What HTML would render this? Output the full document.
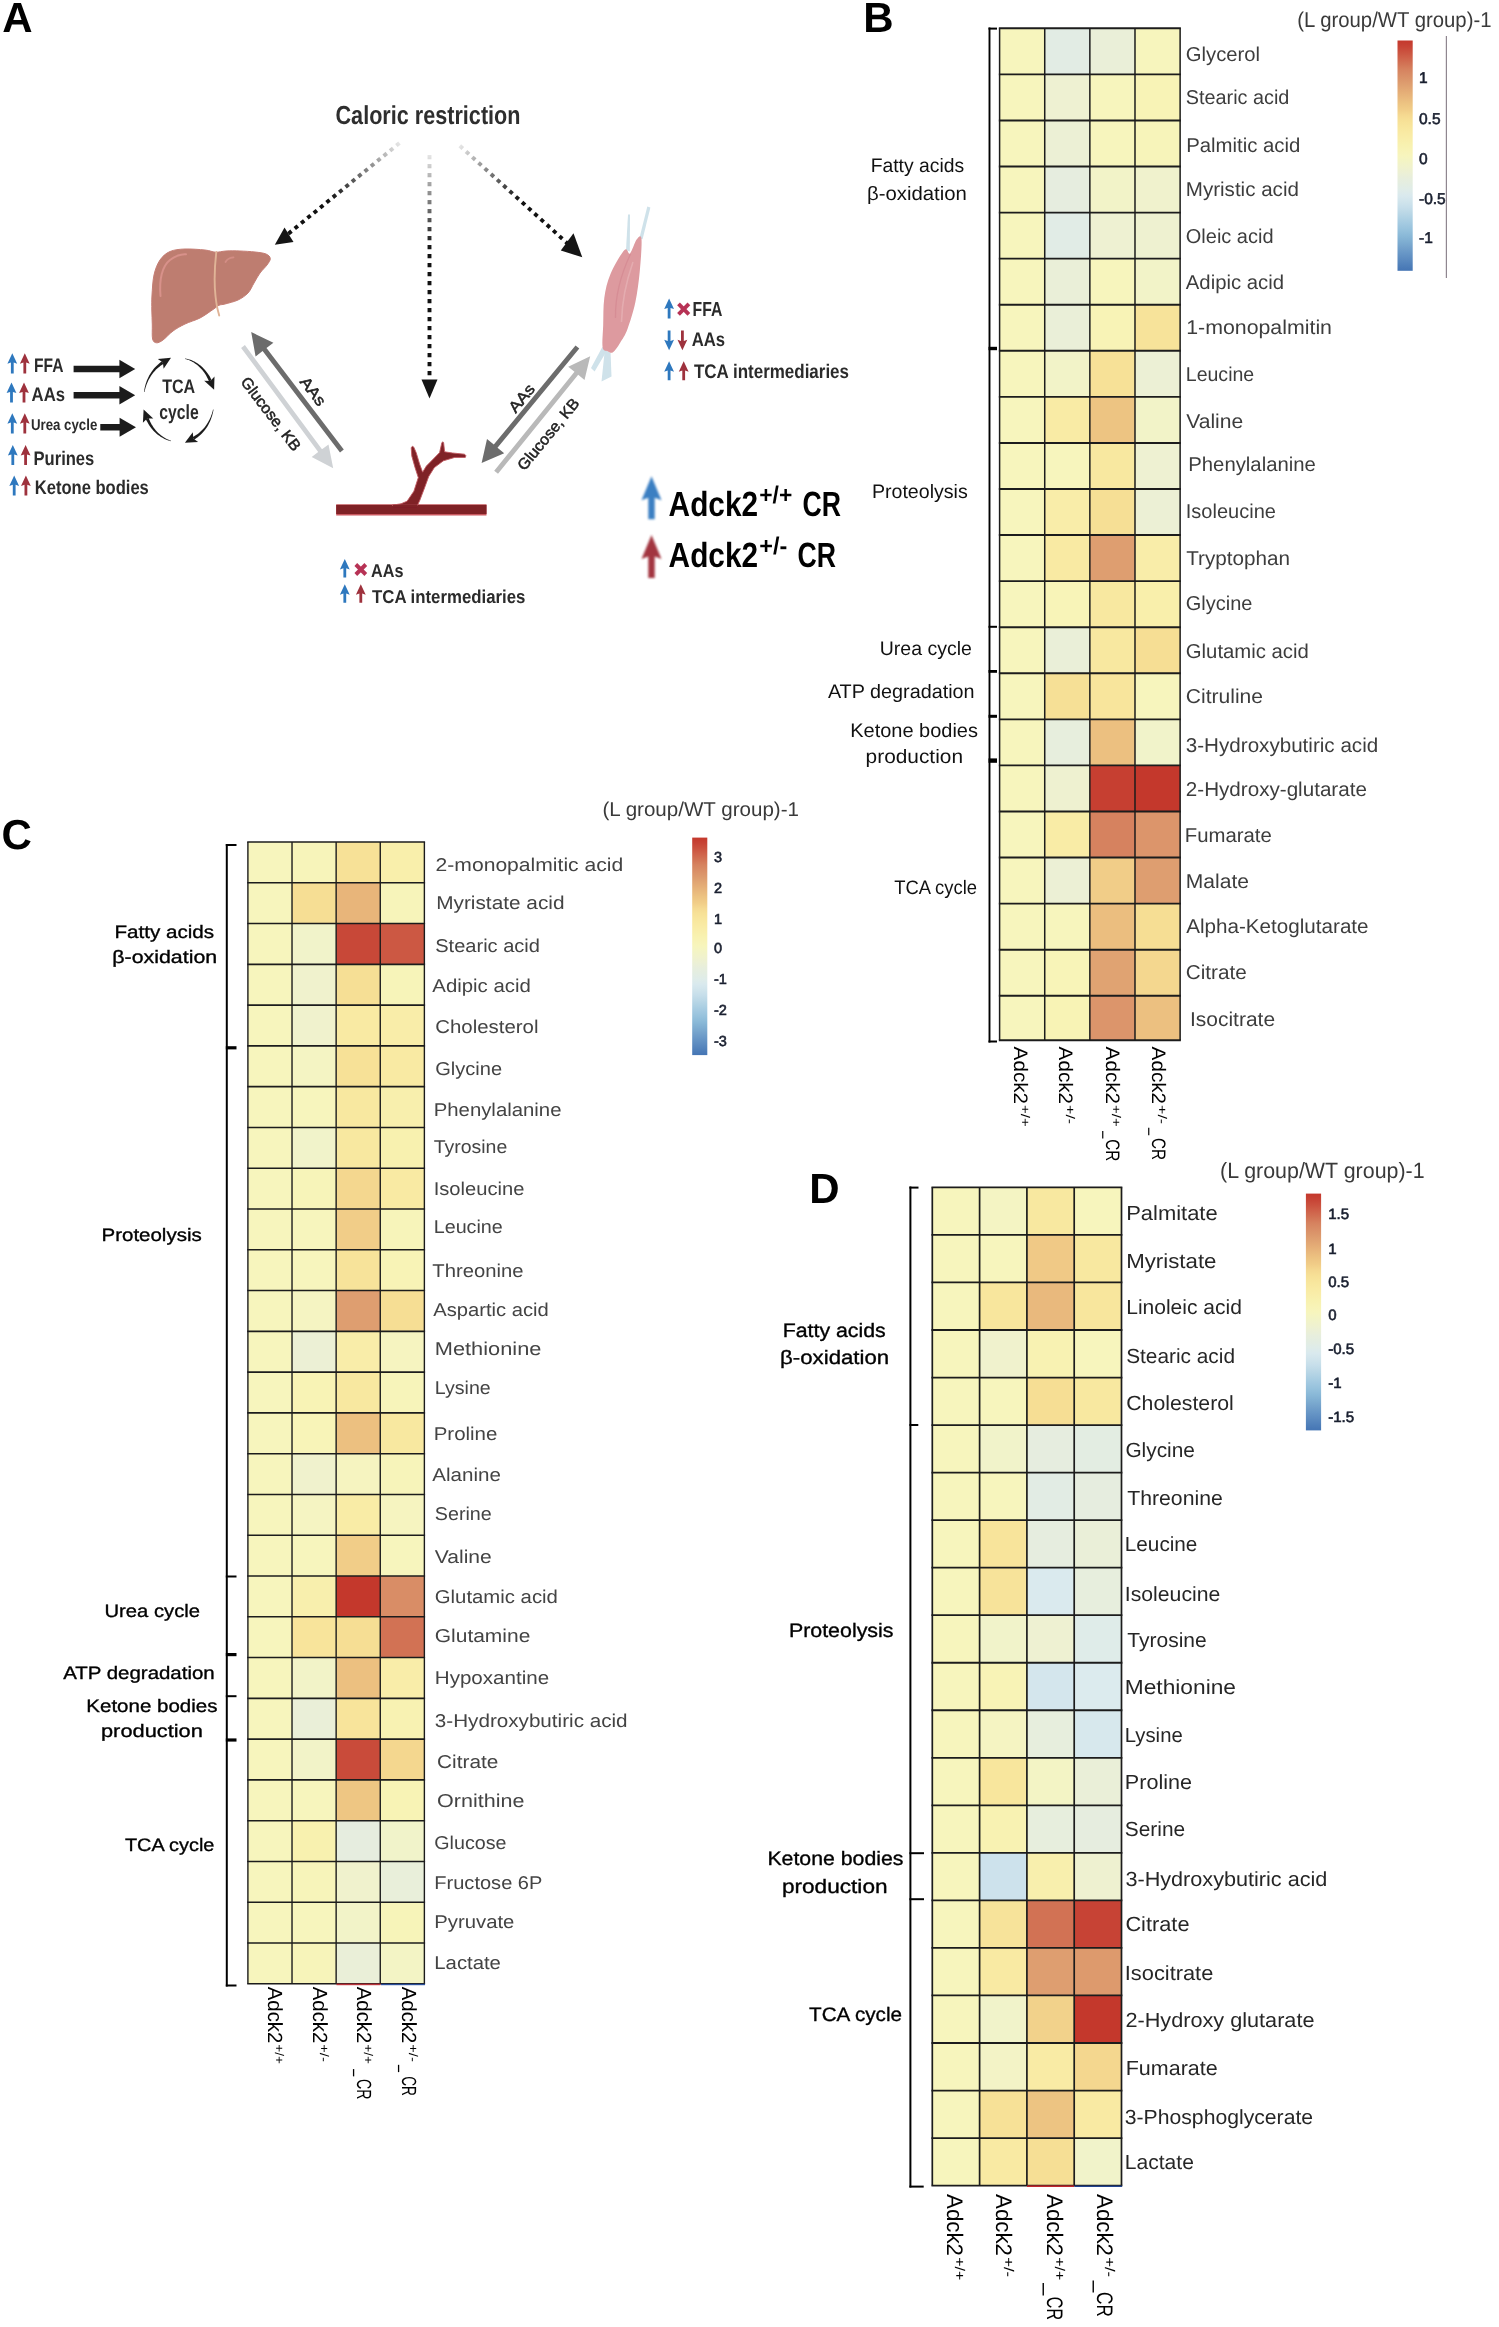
<!DOCTYPE html>
<html><head><meta charset="utf-8"><title>Figure</title>
<style>html,body{margin:0;padding:0;background:#fff}svg{display:block}text{text-rendering:geometricPrecision}</style>
</head><body>
<svg width="1499" height="2327" viewBox="0 0 1499 2327" font-family="'Liberation Sans', sans-serif">
<rect width="1499" height="2327" fill="#fff"/>
<g opacity="0.999">
<text x="2.2" y="32.4" font-size="42" text-anchor="start" fill="#000" font-weight="bold">A</text>
<text x="863.2" y="32.4" font-size="42" text-anchor="start" fill="#000" font-weight="bold">B</text>
<text x="1.5" y="848.6" font-size="42" text-anchor="start" fill="#000" font-weight="bold">C</text>
<text x="809.3" y="1203.0" font-size="42" text-anchor="start" fill="#000" font-weight="bold">D</text>
<g id="panelA">
<defs>
<filter id="soft" x="-20%" y="-20%" width="140%" height="140%"><feGaussianBlur stdDeviation="0.45"/></filter>
<filter id="soft2" x="-30%" y="-30%" width="160%" height="160%"><feGaussianBlur stdDeviation="0.9"/></filter>
<linearGradient id="fadeL" gradientUnits="userSpaceOnUse" x1="399.5" y1="143" x2="330" y2="200"><stop offset="0" stop-color="#e6e6e6"/><stop offset="1" stop-color="#111"/></linearGradient>
<linearGradient id="fadeC" gradientUnits="userSpaceOnUse" x1="429.5" y1="152" x2="429.5" y2="250"><stop offset="0" stop-color="#ececec"/><stop offset="1" stop-color="#111"/></linearGradient>
<linearGradient id="fadeR" gradientUnits="userSpaceOnUse" x1="459.8" y1="145.8" x2="520" y2="200"><stop offset="0" stop-color="#e6e6e6"/><stop offset="1" stop-color="#111"/></linearGradient>
</defs>
<text x="335.5" y="124.3" font-size="26" text-anchor="start" fill="#2e2e2e" font-weight="bold" textLength="185.0" lengthAdjust="spacingAndGlyphs">Caloric restriction</text>
<line x1="399.5" y1="143" x2="287" y2="234.8" stroke="url(#fadeL)" stroke-width="3.9" stroke-dasharray="4 4.2"/>
<polygon points="274.8,244.8 284.5,227.5 293.5,242" fill="#151515"/>
<line x1="429.5" y1="155" x2="429.5" y2="380" stroke="url(#fadeC)" stroke-width="3.9" stroke-dasharray="4.2 4.8"/>
<polygon points="429.5,398.5 421.5,379.5 437.5,379.5" fill="#151515"/>
<line x1="459.8" y1="145.8" x2="569" y2="244.8" stroke="url(#fadeR)" stroke-width="3.9" stroke-dasharray="4 4.4"/>
<polygon points="582.3,257.3 573.5,233.3 560.8,250.5" fill="#151515"/>
<path d="M152.0,295.0 C152.4,289.2 152.7,280.8 154.0,275.0 C155.3,269.2 157.3,263.9 160.0,260.0 C162.7,256.1 165.8,253.3 170.0,251.5 C174.2,249.7 179.2,249.2 185.0,249.0 C190.8,248.8 199.9,249.5 205.0,250.0 C210.1,250.5 212.0,252.0 215.5,252.2 C219.0,252.4 221.9,251.2 226.0,251.0 C230.1,250.8 235.2,250.8 240.0,251.0 C244.8,251.2 250.7,251.5 255.0,252.0 C259.3,252.5 263.4,252.9 266.0,254.0 C268.6,255.1 270.1,256.7 270.3,258.5 C270.5,260.3 268.7,262.6 267.0,265.0 C265.3,267.4 262.2,270.0 260.0,273.0 C257.8,276.0 256.0,279.7 254.0,283.0 C252.0,286.3 250.7,290.2 248.0,293.0 C245.3,295.8 241.8,298.2 238.0,300.0 C234.2,301.8 228.2,303.1 225.0,304.0 C221.8,304.9 221.0,304.4 219.0,305.3 C217.0,306.2 216.2,307.4 213.0,309.5 C209.8,311.6 204.7,315.6 200.0,318.0 C195.3,320.4 189.5,321.8 185.0,324.0 C180.5,326.2 176.7,328.3 173.0,331.0 C169.3,333.7 165.8,338.0 163.0,340.0 C160.2,342.0 158.2,343.0 156.5,342.8 C154.8,342.6 153.3,342.0 152.6,339.0 C151.9,336.0 152.4,329.8 152.3,325.0 C152.2,320.2 151.9,315.0 151.8,310.0 C151.8,305.0 151.6,300.8 152.0,295.0Z" fill="#be7d70" stroke="#c47d74" stroke-width="1" filter="url(#soft)"/>
<path d="M160.5,296 C159,280 162,266 170,260 S182,254.5 186,254.2" fill="none" stroke="#d8918a" stroke-width="2" stroke-linecap="round" filter="url(#soft)"/>
<path d="M225.5,262 C227,259 230,257.8 233.5,257.4" fill="none" stroke="#d38d85" stroke-width="1.8" stroke-linecap="round" filter="url(#soft)"/>
<path d="M216.3,252 C214.8,265 214,282 215.5,296 S218,310 219.2,315.5" fill="none" stroke="#e0b497" stroke-width="1.9" stroke-linecap="round" filter="url(#soft)"/>
<g filter="url(#soft)">
<path d="M639.3,238.5 L647.3,206.5 L650.4,207.6 L642.6,239.3Z" fill="#cfe2ea"/>
<path d="M626,250 L628,214.5 L630,214.5 L629.8,251.5Z" fill="#cfe2ea"/>
<path d="M602.3,347 L591,368 L594.6,371.5 L607,350.5Z" fill="#cfe2ea"/>
<path d="M604.8,350 L601.5,381.5 L611.5,376.5 L610.6,353Z" fill="#cfe2ea"/>
<path d="M641.5,239.0 C642.0,244.2 640.8,260.4 639.8,271.0 C638.8,281.6 637.3,292.8 635.3,302.5 C633.2,312.2 630.0,322.2 627.5,329.0 C625.0,335.8 622.4,339.1 620.0,343.0 C617.6,346.9 615.1,350.9 613.0,352.3 C610.9,353.7 609.2,352.1 607.5,351.3 C605.8,350.5 603.3,351.7 602.6,347.3 C601.9,342.9 602.9,333.2 603.2,325.0 C603.5,316.8 603.1,306.5 604.3,298.0 C605.5,289.5 607.1,282.0 610.5,274.0 C613.9,266.0 621.2,253.4 624.5,250.0 C627.8,246.6 628.0,255.1 630.0,253.4 C632.0,251.7 634.7,242.0 636.6,239.6 C638.5,237.2 641.0,233.8 641.5,239.0Z" fill="#dd9a9f"/>
<path d="M630.5,254 C622,272 615,292 615.5,318" fill="none" stroke="#d58a92" stroke-width="1.3" opacity="0.8"/>
<path d="M633,262 C626,282 622,300 621.5,322" fill="none" stroke="#e7b3b6" stroke-width="1.6" opacity="0.7"/>
</g>
<g filter="url(#soft)">
<rect x="336.2" y="504.3" width="150.3" height="11.2" fill="#c9595f"/>
<rect x="336.2" y="504.9" width="150.3" height="9.1" fill="#7f2028"/>
<path d="M392,505.2 L401,503.8 L407.1,501.2 L413.9,491.2 L418.3,477.6 L415,467.4 L411.8,456 L411.2,447.8 L412.4,446.2 L413.7,447 L416.2,452.7 L419.6,464 L422.6,472.2 L426.4,466 L434.3,458 L439.6,452.6 L441.8,442.9 L442.7,441.8 L443.6,442.6 L444.6,451.8 L452.5,453 L464.6,454.2 L465.9,455.7 L465.3,457.4 L454.7,457.4 L443.4,460.8 L434.3,467.6 L428.7,476.5 L424.1,489 L419.8,500.3 L417.5,505.2Z" fill="#7f2028" stroke="#c05a60" stroke-width="0.9" stroke-linejoin="round"/>
<rect x="393" y="504.9" width="24" height="3" fill="#7f2028"/>
</g>
<g filter="url(#soft)">
<polygon points="241.1,347.9 318.2,452.0 311.7,456.9 333.2,468.3 328.5,444.4 322.0,449.2 244.9,345.1" fill="#cfd2d5"/>
<polygon points="343.8,449.5 266.5,348.1 273.4,342.8 251.2,332.1 255.6,356.4 262.6,351.0 340.0,452.5" fill="#6c6c6c"/>
<polygon points="498.0,473.8 578.2,374.8 584.5,379.9 590.2,356.2 568.2,366.7 574.5,371.8 494.2,470.8" fill="#b9b9b9"/>
<polygon points="575.5,345.6 493.8,444.6 487.0,439.0 481.6,463.1 504.2,453.3 497.5,447.7 579.3,348.6" fill="#6c6c6c"/>
</g>
<text transform="translate(313.3,391.1) rotate(52.7)" x="0" y="5.6" font-size="15.5" text-anchor="middle" fill="#222" stroke="#222" stroke-width="0.5" textLength="31.5" lengthAdjust="spacingAndGlyphs">AAs</text>
<text transform="translate(271.2,413.7) rotate(52.7)" x="0" y="5.6" font-size="15.5" text-anchor="middle" fill="#222" stroke="#222" stroke-width="0.5" textLength="88" lengthAdjust="spacingAndGlyphs">Glucose, KB</text>
<text transform="translate(521.3,398.0) rotate(-50.6)" x="0" y="5.6" font-size="15.5" text-anchor="middle" fill="#222" stroke="#222" stroke-width="0.5" textLength="31.5" lengthAdjust="spacingAndGlyphs">AAs</text>
<text transform="translate(548.0,434.0) rotate(-50.6)" x="0" y="5.6" font-size="15.5" text-anchor="middle" fill="#222" stroke="#222" stroke-width="0.5" textLength="88" lengthAdjust="spacingAndGlyphs">Glucose, KB</text>
<polygon points="12.3,353.3 17.2,363.8 13.7,362.6 13.7,373.6 10.9,373.6 10.9,362.6 7.4,363.8" fill="#2f78be" filter="url(#soft)"/>
<polygon points="24.8,353.3 29.7,363.8 26.2,362.6 26.2,373.6 23.4,373.6 23.4,362.6 19.9,363.8" fill="#9e303c" filter="url(#soft)"/>
<polygon points="11.5,382.6 16.4,393.1 12.9,391.9 12.9,402.6 10.1,402.6 10.1,391.9 6.6,393.1" fill="#2f78be" filter="url(#soft)"/>
<polygon points="24.0,382.6 28.9,393.1 25.4,391.9 25.4,402.6 22.6,402.6 22.6,391.9 19.1,393.1" fill="#9e303c" filter="url(#soft)"/>
<polygon points="12.3,413.3 17.2,423.8 13.7,422.6 13.7,433.4 10.9,433.4 10.9,422.6 7.4,423.8" fill="#2f78be" filter="url(#soft)"/>
<polygon points="24.8,413.3 29.7,423.8 26.2,422.6 26.2,433.4 23.4,433.4 23.4,422.6 19.9,423.8" fill="#9e303c" filter="url(#soft)"/>
<polygon points="12.8,445.1 17.7,455.6 14.2,454.4 14.2,465.1 11.4,465.1 11.4,454.4 7.9,455.6" fill="#2f78be" filter="url(#soft)"/>
<polygon points="25.6,445.1 30.5,455.6 27.0,454.4 27.0,465.1 24.2,465.1 24.2,454.4 20.7,455.6" fill="#9e303c" filter="url(#soft)"/>
<polygon points="14.2,475.4 19.1,485.9 15.6,484.7 15.6,495.5 12.8,495.5 12.8,484.7 9.3,485.9" fill="#2f78be" filter="url(#soft)"/>
<polygon points="25.9,475.4 30.8,485.9 27.3,484.7 27.3,495.5 24.5,495.5 24.5,484.7 21.0,485.9" fill="#9e303c" filter="url(#soft)"/>
<text x="34.0" y="371.7" font-size="19.7" text-anchor="start" fill="#2b2b2b" font-weight="bold" textLength="29.4" lengthAdjust="spacingAndGlyphs">FFA</text>
<text x="31.6" y="401.4" font-size="19.7" text-anchor="start" fill="#2b2b2b" font-weight="bold" textLength="33.4" lengthAdjust="spacingAndGlyphs">AAs</text>
<text x="30.9" y="430.4" font-size="15.8" text-anchor="start" fill="#2b2b2b" font-weight="bold" textLength="66.4" lengthAdjust="spacingAndGlyphs">Urea cycle</text>
<text x="33.5" y="464.8" font-size="19.7" text-anchor="start" fill="#2b2b2b" font-weight="bold" textLength="60.8" lengthAdjust="spacingAndGlyphs">Purines</text>
<text x="34.8" y="493.9" font-size="19.7" text-anchor="start" fill="#2b2b2b" font-weight="bold" textLength="114.0" lengthAdjust="spacingAndGlyphs">Ketone bodies</text>
<g filter="url(#soft)">
<polygon points="73.6,372.2 119.4,372.2 119.4,378.2 135.2,369.0 119.4,359.8 119.4,365.8 73.6,365.8" fill="#1e1e1e"/>
<polygon points="73.6,398.4 119.4,398.4 119.4,404.4 135.2,395.2 119.4,386.0 119.4,392.0 73.6,392.0" fill="#1e1e1e"/>
<polygon points="100.3,430.4 119.6,430.4 119.6,436.7 136.0,427.2 119.6,417.7 119.6,424.0 100.3,424.0" fill="#1e1e1e"/>
</g>
<g filter="url(#soft)">
<polygon points="144.0,391.9 144.2,390.4 144.5,388.8 144.8,387.3 145.2,385.7 145.6,384.2 146.1,382.7 146.6,381.2 147.2,379.8 147.8,378.4 148.5,377.0 149.2,375.6 150.0,374.3 150.8,372.9 151.6,371.7 152.5,370.4 153.4,369.3 154.4,368.1 155.4,367.0 156.4,365.9 157.5,364.9 158.6,363.9 159.7,363.0 160.9,362.1 162.1,361.3 163.7,363.9 162.5,364.5 161.4,365.3 160.2,366.0 159.2,366.9 158.1,367.7 157.0,368.7 156.0,369.6 155.1,370.7 154.1,371.7 153.2,372.8 152.3,374.0 151.4,375.2 150.6,376.4 149.9,377.7 149.1,379.0 148.4,380.3 147.8,381.7 147.2,383.1 146.6,384.5 146.1,386.0 145.6,387.5 145.2,389.0 144.8,390.5 144.5,392.0" fill="#1e1e1e"/>
<polygon points="171.0,357.7 163.6,368.7 162.9,362.6 157.8,359.1" fill="#1e1e1e"/>
<polygon points="185.1,358.4 186.4,358.7 187.8,359.0 189.1,359.4 190.5,359.8 191.8,360.3 193.1,360.9 194.4,361.5 195.6,362.2 196.9,363.0 198.1,363.8 199.3,364.7 200.5,365.6 201.6,366.6 202.7,367.6 203.8,368.7 204.8,369.8 205.8,371.0 206.8,372.2 207.7,373.4 208.6,374.7 209.5,376.1 210.3,377.5 211.0,378.9 211.7,380.3 209.0,381.5 208.4,380.1 207.8,378.7 207.1,377.4 206.4,376.1 205.7,374.8 204.9,373.6 204.0,372.3 203.2,371.2 202.3,370.0 201.3,368.9 200.3,367.9 199.3,366.9 198.3,365.9 197.2,365.0 196.1,364.2 194.9,363.4 193.8,362.6 192.6,361.9 191.4,361.3 190.1,360.7 188.9,360.1 187.6,359.7 186.3,359.2 185.0,358.9" fill="#1e1e1e"/>
<polygon points="214.1,389.7 204.2,380.8 210.4,380.9 214.5,376.4" fill="#1e1e1e"/>
<polygon points="213.5,409.5 213.3,411.1 212.9,412.7 212.5,414.2 212.1,415.8 211.6,417.3 211.1,418.8 210.5,420.3 209.9,421.7 209.2,423.1 208.5,424.5 207.7,425.9 206.9,427.2 206.0,428.5 205.1,429.7 204.1,431.0 203.2,432.1 202.1,433.2 201.1,434.3 200.0,435.3 198.8,436.3 197.7,437.2 196.5,438.1 195.2,438.9 194.0,439.7 192.6,437.0 193.8,436.4 194.9,435.8 196.1,435.0 197.3,434.3 198.4,433.4 199.5,432.6 200.5,431.6 201.6,430.6 202.6,429.6 203.6,428.5 204.5,427.4 205.4,426.2 206.3,425.0 207.1,423.7 207.9,422.5 208.7,421.1 209.4,419.8 210.0,418.4 210.7,416.9 211.2,415.5 211.8,414.0 212.2,412.5 212.7,411.0 213.0,409.4" fill="#1e1e1e"/>
<polygon points="184.9,442.8 192.8,432.3 193.3,438.4 198.1,442.1" fill="#1e1e1e"/>
<polygon points="170.9,441.2 169.6,440.8 168.3,440.4 167.0,440.0 165.8,439.5 164.5,438.9 163.3,438.3 162.1,437.6 160.9,436.9 159.7,436.1 158.5,435.3 157.4,434.4 156.3,433.5 155.3,432.5 154.2,431.5 153.2,430.4 152.2,429.3 151.3,428.2 150.4,427.0 149.5,425.7 148.7,424.4 147.9,423.1 147.2,421.8 146.4,420.4 145.8,419.0 148.6,417.8 149.1,419.2 149.7,420.5 150.3,421.9 150.9,423.1 151.6,424.4 152.4,425.6 153.1,426.8 153.9,428.0 154.8,429.1 155.7,430.2 156.6,431.2 157.5,432.2 158.5,433.2 159.5,434.1 160.6,435.0 161.6,435.8 162.7,436.6 163.8,437.3 165.0,438.0 166.2,438.7 167.3,439.2 168.6,439.8 169.8,440.3 171.0,440.7" fill="#1e1e1e"/>
<polygon points="143.6,409.6 153.3,418.6 147.2,418.4 142.9,422.8" fill="#1e1e1e"/>
</g>
<text x="162.2" y="392.7" font-size="19.5" text-anchor="start" fill="#2b2b2b" font-weight="bold" textLength="33.0" lengthAdjust="spacingAndGlyphs">TCA</text>
<text x="159.3" y="418.7" font-size="20.5" text-anchor="start" fill="#2b2b2b" font-weight="bold" textLength="39.4" lengthAdjust="spacingAndGlyphs">cycle</text>
<polygon points="669.1,298.6 674.0,309.1 670.5,307.9 670.5,318.4 667.7,318.4 667.7,307.9 664.2,309.1" fill="#2f78be" filter="url(#soft)"/>
<g stroke="#b73355" stroke-width="3.9" filter="url(#soft)"><line x1="678.5" y1="303.90000000000003" x2="688.9000000000001" y2="314.3"/><line x1="678.5" y1="314.3" x2="688.9000000000001" y2="303.90000000000003"/></g>
<text x="692.6" y="316.2" font-size="20.2" text-anchor="start" fill="#2b2b2b" font-weight="bold" textLength="29.8" lengthAdjust="spacingAndGlyphs">FFA</text>
<polygon points="669.1,350.2 674.0,339.7 670.5,340.9 670.5,330.6 667.7,330.6 667.7,340.9 664.2,339.7" fill="#2f78be" filter="url(#soft)"/>
<polygon points="682.4,350.2 687.3,339.7 683.8,340.9 683.8,330.6 681.0,330.6 681.0,340.9 677.5,339.7" fill="#9e303c" filter="url(#soft)"/>
<text x="691.7" y="345.9" font-size="19.7" text-anchor="start" fill="#2b2b2b" font-weight="bold" textLength="33.4" lengthAdjust="spacingAndGlyphs">AAs</text>
<polygon points="669.1,361.2 674.0,371.7 670.5,370.5 670.5,380.2 667.7,380.2 667.7,370.5 664.2,371.7" fill="#2f78be" filter="url(#soft)"/>
<polygon points="683.7,361.2 688.6,371.7 685.1,370.5 685.1,380.2 682.3,380.2 682.3,370.5 678.8,371.7" fill="#9e303c" filter="url(#soft)"/>
<text x="694.0" y="378.2" font-size="19.7" text-anchor="start" fill="#2b2b2b" font-weight="bold" textLength="155.0" lengthAdjust="spacingAndGlyphs">TCA intermediaries</text>
<polygon points="344.8,559.0 349.7,569.5 346.2,568.3 346.2,577.6 343.4,577.6 343.4,568.3 339.9,569.5" fill="#2f78be" filter="url(#soft)"/>
<g stroke="#b73355" stroke-width="3.9" filter="url(#soft)"><line x1="355.8" y1="564.5" x2="365.8" y2="574.5"/><line x1="355.8" y1="574.5" x2="365.8" y2="564.5"/></g>
<text x="371.0" y="577.4" font-size="18.6" text-anchor="start" fill="#2b2b2b" font-weight="bold" textLength="32.4" lengthAdjust="spacingAndGlyphs">AAs</text>
<polygon points="344.8,584.2 349.7,594.7 346.2,593.5 346.2,602.8 343.4,602.8 343.4,593.5 339.9,594.7" fill="#2f78be" filter="url(#soft)"/>
<polygon points="360.8,584.2 365.7,594.7 362.2,593.5 362.2,602.8 359.4,602.8 359.4,593.5 355.9,594.7" fill="#9e303c" filter="url(#soft)"/>
<text x="372.0" y="603.2" font-size="18.6" text-anchor="start" fill="#2b2b2b" font-weight="bold" textLength="153.4" lengthAdjust="spacingAndGlyphs">TCA intermediaries</text>
<polygon points="651.5,476.3 661.5,500.3 654.7,497.8 654.7,519.2 648.3,519.2 648.3,497.8 641.5,500.3" fill="#3a7fc2" filter="url(#soft2)"/>
<polygon points="651.5,535.1 661.5,559.1 654.7,556.6 654.7,578.0 648.3,578.0 648.3,556.6 641.5,559.1" fill="#a2353f" filter="url(#soft2)"/>
<text x="668.6" y="515.5" font-size="35" font-weight="bold" fill="#000" textLength="89.5" lengthAdjust="spacingAndGlyphs">Adck2</text>
<text x="759.3" y="503.0" font-size="24" font-weight="bold" fill="#000" textLength="33" lengthAdjust="spacingAndGlyphs">+/+</text>
<text x="802.5" y="515.5" font-size="35" font-weight="bold" fill="#000" textLength="38.5" lengthAdjust="spacingAndGlyphs">CR</text>
<text x="668.6" y="566.9" font-size="35" font-weight="bold" fill="#000" textLength="89.5" lengthAdjust="spacingAndGlyphs">Adck2</text>
<text x="759.3" y="554.4" font-size="24" font-weight="bold" fill="#000" textLength="28" lengthAdjust="spacingAndGlyphs">+/-</text>
<text x="797.5" y="566.9" font-size="35" font-weight="bold" fill="#000" textLength="38.5" lengthAdjust="spacingAndGlyphs">CR</text>
</g>
<g id="panelB">
<rect x="999.60" y="28.30" width="45.43" height="46.37" fill="#f7f5bd"/>
<rect x="1044.73" y="28.30" width="45.43" height="46.37" fill="#e2ece4"/>
<rect x="1089.86" y="28.30" width="45.43" height="46.37" fill="#eaefd8"/>
<rect x="1134.99" y="28.30" width="45.43" height="46.37" fill="#f7f5bd"/>
<rect x="999.60" y="74.37" width="45.43" height="46.37" fill="#f7f5bd"/>
<rect x="1044.73" y="74.37" width="45.43" height="46.37" fill="#eef1d2"/>
<rect x="1089.86" y="74.37" width="45.43" height="46.37" fill="#f7f5bd"/>
<rect x="1134.99" y="74.37" width="45.43" height="46.37" fill="#f8f3b6"/>
<rect x="999.60" y="120.44" width="45.43" height="46.37" fill="#f7f5bd"/>
<rect x="1044.73" y="120.44" width="45.43" height="46.37" fill="#ecf0d5"/>
<rect x="1089.86" y="120.44" width="45.43" height="46.37" fill="#f7f5bd"/>
<rect x="1134.99" y="120.44" width="45.43" height="46.37" fill="#f7f4ba"/>
<rect x="999.60" y="166.51" width="45.43" height="46.37" fill="#f7f5bd"/>
<rect x="1044.73" y="166.51" width="45.43" height="46.37" fill="#e6eddf"/>
<rect x="1089.86" y="166.51" width="45.43" height="46.37" fill="#f2f3c8"/>
<rect x="1134.99" y="166.51" width="45.43" height="46.37" fill="#f0f2cd"/>
<rect x="999.60" y="212.58" width="45.43" height="46.37" fill="#f7f5bd"/>
<rect x="1044.73" y="212.58" width="45.43" height="46.37" fill="#e1ece6"/>
<rect x="1089.86" y="212.58" width="45.43" height="46.37" fill="#eef1d2"/>
<rect x="1134.99" y="212.58" width="45.43" height="46.37" fill="#eef1d0"/>
<rect x="999.60" y="258.65" width="45.43" height="46.37" fill="#f7f5bd"/>
<rect x="1044.73" y="258.65" width="45.43" height="46.37" fill="#eaefd8"/>
<rect x="1089.86" y="258.65" width="45.43" height="46.37" fill="#f7f5bd"/>
<rect x="1134.99" y="258.65" width="45.43" height="46.37" fill="#f2f3c8"/>
<rect x="999.60" y="304.72" width="45.43" height="46.37" fill="#f7f5bd"/>
<rect x="1044.73" y="304.72" width="45.43" height="46.37" fill="#eaefd8"/>
<rect x="1089.86" y="304.72" width="45.43" height="46.37" fill="#f8f3b6"/>
<rect x="1134.99" y="304.72" width="45.43" height="46.37" fill="#f7e39a"/>
<rect x="999.60" y="350.79" width="45.43" height="46.37" fill="#f7f5bd"/>
<rect x="1044.73" y="350.79" width="45.43" height="46.37" fill="#f2f3c8"/>
<rect x="1089.86" y="350.79" width="45.43" height="46.37" fill="#f7e197"/>
<rect x="1134.99" y="350.79" width="45.43" height="46.37" fill="#ecf0d5"/>
<rect x="999.60" y="396.86" width="45.43" height="46.37" fill="#f7f5bd"/>
<rect x="1044.73" y="396.86" width="45.43" height="46.37" fill="#f9eba5"/>
<rect x="1089.86" y="396.86" width="45.43" height="46.37" fill="#edc482"/>
<rect x="1134.99" y="396.86" width="45.43" height="46.37" fill="#f2f3c8"/>
<rect x="999.60" y="442.93" width="45.43" height="46.37" fill="#f7f5bd"/>
<rect x="1044.73" y="442.93" width="45.43" height="46.37" fill="#f7f5bd"/>
<rect x="1089.86" y="442.93" width="45.43" height="46.37" fill="#f8e8a0"/>
<rect x="1134.99" y="442.93" width="45.43" height="46.37" fill="#eef1d2"/>
<rect x="999.60" y="489.00" width="45.43" height="46.37" fill="#f7f5bd"/>
<rect x="1044.73" y="489.00" width="45.43" height="46.37" fill="#f9eda9"/>
<rect x="1089.86" y="489.00" width="45.43" height="46.37" fill="#f6df95"/>
<rect x="1134.99" y="489.00" width="45.43" height="46.37" fill="#ecf0d5"/>
<rect x="999.60" y="535.07" width="45.43" height="46.37" fill="#f7f5bd"/>
<rect x="1044.73" y="535.07" width="45.43" height="46.37" fill="#f9eaa3"/>
<rect x="1089.86" y="535.07" width="45.43" height="46.37" fill="#de9e70"/>
<rect x="1134.99" y="535.07" width="45.43" height="46.37" fill="#f9eda9"/>
<rect x="999.60" y="581.14" width="45.43" height="46.37" fill="#f7f5bd"/>
<rect x="1044.73" y="581.14" width="45.43" height="46.37" fill="#f8f4b8"/>
<rect x="1089.86" y="581.14" width="45.43" height="46.37" fill="#f8e8a0"/>
<rect x="1134.99" y="581.14" width="45.43" height="46.37" fill="#f9efab"/>
<rect x="999.60" y="627.21" width="45.43" height="46.37" fill="#f7f5bd"/>
<rect x="1044.73" y="627.21" width="45.43" height="46.37" fill="#eaefd8"/>
<rect x="1089.86" y="627.21" width="45.43" height="46.37" fill="#f8e8a0"/>
<rect x="1134.99" y="627.21" width="45.43" height="46.37" fill="#f6de94"/>
<rect x="999.60" y="673.28" width="45.43" height="46.37" fill="#f7f5bd"/>
<rect x="1044.73" y="673.28" width="45.43" height="46.37" fill="#f6e096"/>
<rect x="1089.86" y="673.28" width="45.43" height="46.37" fill="#f8e59c"/>
<rect x="1134.99" y="673.28" width="45.43" height="46.37" fill="#f7f5bd"/>
<rect x="999.60" y="719.35" width="45.43" height="46.37" fill="#f7f5bd"/>
<rect x="1044.73" y="719.35" width="45.43" height="46.37" fill="#e7eedd"/>
<rect x="1089.86" y="719.35" width="45.43" height="46.37" fill="#ecc080"/>
<rect x="1134.99" y="719.35" width="45.43" height="46.37" fill="#f1f3ca"/>
<rect x="999.60" y="765.42" width="45.43" height="46.37" fill="#f7f5bd"/>
<rect x="1044.73" y="765.42" width="45.43" height="46.37" fill="#eef1d0"/>
<rect x="1089.86" y="765.42" width="45.43" height="46.37" fill="#c63f31"/>
<rect x="1134.99" y="765.42" width="45.43" height="46.37" fill="#c4382c"/>
<rect x="999.60" y="811.49" width="45.43" height="46.37" fill="#f7f5bd"/>
<rect x="1044.73" y="811.49" width="45.43" height="46.37" fill="#f9eca6"/>
<rect x="1089.86" y="811.49" width="45.43" height="46.37" fill="#d6825f"/>
<rect x="1134.99" y="811.49" width="45.43" height="46.37" fill="#dc956b"/>
<rect x="999.60" y="857.56" width="45.43" height="46.37" fill="#f7f5bd"/>
<rect x="1044.73" y="857.56" width="45.43" height="46.37" fill="#ecf0d5"/>
<rect x="1089.86" y="857.56" width="45.43" height="46.37" fill="#f1cd88"/>
<rect x="1134.99" y="857.56" width="45.43" height="46.37" fill="#de9e70"/>
<rect x="999.60" y="903.63" width="45.43" height="46.37" fill="#f7f5bd"/>
<rect x="1044.73" y="903.63" width="45.43" height="46.37" fill="#f7f5bd"/>
<rect x="1089.86" y="903.63" width="45.43" height="46.37" fill="#ebbe7f"/>
<rect x="1134.99" y="903.63" width="45.43" height="46.37" fill="#f6de94"/>
<rect x="999.60" y="949.70" width="45.43" height="46.37" fill="#f7f5bd"/>
<rect x="1044.73" y="949.70" width="45.43" height="46.37" fill="#f8f4b8"/>
<rect x="1089.86" y="949.70" width="45.43" height="46.37" fill="#e0a372"/>
<rect x="1134.99" y="949.70" width="45.43" height="46.37" fill="#f4d78f"/>
<rect x="999.60" y="995.77" width="45.43" height="44.83" fill="#f7f5bd"/>
<rect x="1044.73" y="995.77" width="45.43" height="44.83" fill="#f8f3b5"/>
<rect x="1089.86" y="995.77" width="45.43" height="44.83" fill="#dc956b"/>
<rect x="1134.99" y="995.77" width="45.43" height="44.83" fill="#ecc080"/>
<line x1="998.85" y1="28.30" x2="1180.87" y2="28.30" stroke="#1c1c1c" stroke-width="1.9"/>
<line x1="998.85" y1="74.37" x2="1180.87" y2="74.37" stroke="#1c1c1c" stroke-width="1.9"/>
<line x1="998.85" y1="120.44" x2="1180.87" y2="120.44" stroke="#1c1c1c" stroke-width="1.9"/>
<line x1="998.85" y1="166.51" x2="1180.87" y2="166.51" stroke="#1c1c1c" stroke-width="1.9"/>
<line x1="998.85" y1="212.58" x2="1180.87" y2="212.58" stroke="#1c1c1c" stroke-width="1.9"/>
<line x1="998.85" y1="258.65" x2="1180.87" y2="258.65" stroke="#1c1c1c" stroke-width="1.9"/>
<line x1="998.85" y1="304.72" x2="1180.87" y2="304.72" stroke="#1c1c1c" stroke-width="1.9"/>
<line x1="998.85" y1="350.79" x2="1180.87" y2="350.79" stroke="#1c1c1c" stroke-width="1.9"/>
<line x1="998.85" y1="396.86" x2="1180.87" y2="396.86" stroke="#1c1c1c" stroke-width="1.9"/>
<line x1="998.85" y1="442.93" x2="1180.87" y2="442.93" stroke="#1c1c1c" stroke-width="1.9"/>
<line x1="998.85" y1="489.00" x2="1180.87" y2="489.00" stroke="#1c1c1c" stroke-width="1.9"/>
<line x1="998.85" y1="535.07" x2="1180.87" y2="535.07" stroke="#1c1c1c" stroke-width="1.9"/>
<line x1="998.85" y1="581.14" x2="1180.87" y2="581.14" stroke="#1c1c1c" stroke-width="1.9"/>
<line x1="998.85" y1="627.21" x2="1180.87" y2="627.21" stroke="#1c1c1c" stroke-width="1.9"/>
<line x1="998.85" y1="673.28" x2="1180.87" y2="673.28" stroke="#1c1c1c" stroke-width="1.9"/>
<line x1="998.85" y1="719.35" x2="1180.87" y2="719.35" stroke="#1c1c1c" stroke-width="1.9"/>
<line x1="998.85" y1="765.42" x2="1180.87" y2="765.42" stroke="#1c1c1c" stroke-width="1.9"/>
<line x1="998.85" y1="811.49" x2="1180.87" y2="811.49" stroke="#1c1c1c" stroke-width="1.9"/>
<line x1="998.85" y1="857.56" x2="1180.87" y2="857.56" stroke="#1c1c1c" stroke-width="1.9"/>
<line x1="998.85" y1="903.63" x2="1180.87" y2="903.63" stroke="#1c1c1c" stroke-width="1.9"/>
<line x1="998.85" y1="949.70" x2="1180.87" y2="949.70" stroke="#1c1c1c" stroke-width="1.9"/>
<line x1="998.85" y1="995.77" x2="1180.87" y2="995.77" stroke="#1c1c1c" stroke-width="1.9"/>
<line x1="998.85" y1="1040.30" x2="1180.87" y2="1040.30" stroke="#1c1c1c" stroke-width="1.9"/>
<line x1="999.60" y1="28.30" x2="999.60" y2="1040.30" stroke="#1c1c1c" stroke-width="1.5"/>
<line x1="1044.73" y1="28.30" x2="1044.73" y2="1040.30" stroke="#1c1c1c" stroke-width="1.5"/>
<line x1="1089.86" y1="28.30" x2="1089.86" y2="1040.30" stroke="#1c1c1c" stroke-width="1.5"/>
<line x1="1134.99" y1="28.30" x2="1134.99" y2="1040.30" stroke="#1c1c1c" stroke-width="1.5"/>
<line x1="1180.12" y1="28.30" x2="1180.12" y2="1040.30" stroke="#1c1c1c" stroke-width="1.5"/>
<text x="1185.8" y="60.5" font-size="20" text-anchor="start" fill="#3d3d3d" font-weight="normal" textLength="74.2" lengthAdjust="spacingAndGlyphs">Glycerol</text>
<text x="1185.8" y="104.1" font-size="20" text-anchor="start" fill="#3d3d3d" font-weight="normal" textLength="103.6" lengthAdjust="spacingAndGlyphs">Stearic acid</text>
<text x="1186.2" y="152.1" font-size="20" text-anchor="start" fill="#3d3d3d" font-weight="normal" textLength="114.2" lengthAdjust="spacingAndGlyphs">Palmitic acid</text>
<text x="1185.8" y="195.5" font-size="20" text-anchor="start" fill="#3d3d3d" font-weight="normal" textLength="113.1" lengthAdjust="spacingAndGlyphs">Myristic acid</text>
<text x="1185.8" y="242.5" font-size="20" text-anchor="start" fill="#3d3d3d" font-weight="normal" textLength="87.7" lengthAdjust="spacingAndGlyphs">Oleic acid</text>
<text x="1185.8" y="288.6" font-size="20" text-anchor="start" fill="#3d3d3d" font-weight="normal" textLength="98.2" lengthAdjust="spacingAndGlyphs">Adipic acid</text>
<text x="1186.2" y="334.1" font-size="20" text-anchor="start" fill="#3d3d3d" font-weight="normal" textLength="145.8" lengthAdjust="spacingAndGlyphs">1-monopalmitin</text>
<text x="1185.8" y="381.1" font-size="20" text-anchor="start" fill="#3d3d3d" font-weight="normal" textLength="68.4" lengthAdjust="spacingAndGlyphs">Leucine</text>
<text x="1186.2" y="427.8" font-size="20" text-anchor="start" fill="#3d3d3d" font-weight="normal" textLength="57.0" lengthAdjust="spacingAndGlyphs">Valine</text>
<text x="1188.3" y="471.1" font-size="20" text-anchor="start" fill="#3d3d3d" font-weight="normal" textLength="127.5" lengthAdjust="spacingAndGlyphs">Phenylalanine</text>
<text x="1185.8" y="517.9" font-size="20" text-anchor="start" fill="#3d3d3d" font-weight="normal" textLength="90.1" lengthAdjust="spacingAndGlyphs">Isoleucine</text>
<text x="1186.2" y="564.5" font-size="20" text-anchor="start" fill="#3d3d3d" font-weight="normal" textLength="103.9" lengthAdjust="spacingAndGlyphs">Tryptophan</text>
<text x="1185.8" y="610.0" font-size="20" text-anchor="start" fill="#3d3d3d" font-weight="normal" textLength="66.6" lengthAdjust="spacingAndGlyphs">Glycine</text>
<text x="1185.8" y="657.7" font-size="20" text-anchor="start" fill="#3d3d3d" font-weight="normal" textLength="123.0" lengthAdjust="spacingAndGlyphs">Glutamic acid</text>
<text x="1185.8" y="703.3" font-size="20" text-anchor="start" fill="#3d3d3d" font-weight="normal" textLength="77.2" lengthAdjust="spacingAndGlyphs">Citruline</text>
<text x="1185.8" y="751.7" font-size="20" text-anchor="start" fill="#3d3d3d" font-weight="normal" textLength="192.4" lengthAdjust="spacingAndGlyphs">3-Hydroxybutiric acid</text>
<text x="1185.8" y="796.2" font-size="20" text-anchor="start" fill="#3d3d3d" font-weight="normal" textLength="181.1" lengthAdjust="spacingAndGlyphs">2-Hydroxy-glutarate</text>
<text x="1184.8" y="842.0" font-size="20" text-anchor="start" fill="#3d3d3d" font-weight="normal" textLength="87.0" lengthAdjust="spacingAndGlyphs">Fumarate</text>
<text x="1185.8" y="888.2" font-size="20" text-anchor="start" fill="#3d3d3d" font-weight="normal" textLength="63.2" lengthAdjust="spacingAndGlyphs">Malate</text>
<text x="1186.2" y="933.3" font-size="20" text-anchor="start" fill="#3d3d3d" font-weight="normal" textLength="182.4" lengthAdjust="spacingAndGlyphs">Alpha-Ketoglutarate</text>
<text x="1185.8" y="979.2" font-size="20" text-anchor="start" fill="#3d3d3d" font-weight="normal" textLength="61.0" lengthAdjust="spacingAndGlyphs">Citrate</text>
<text x="1190.0" y="1025.6" font-size="20" text-anchor="start" fill="#3d3d3d" font-weight="normal" textLength="85.1" lengthAdjust="spacingAndGlyphs">Isocitrate</text>
<text x="870.7" y="172.2" font-size="19.5" text-anchor="start" fill="#111" font-weight="normal" textLength="93.5" lengthAdjust="spacingAndGlyphs">Fatty acids</text>
<text x="867.0" y="200.0" font-size="19.5" text-anchor="start" fill="#111" font-weight="normal" textLength="99.9" lengthAdjust="spacingAndGlyphs">β-oxidation</text>
<text x="871.9" y="498.0" font-size="19.5" text-anchor="start" fill="#111" font-weight="normal" textLength="95.9" lengthAdjust="spacingAndGlyphs">Proteolysis</text>
<text x="879.8" y="655.3" font-size="19.5" text-anchor="start" fill="#111" font-weight="normal" textLength="92.0" lengthAdjust="spacingAndGlyphs">Urea cycle</text>
<text x="827.9" y="698.1" font-size="19.5" text-anchor="start" fill="#111" font-weight="normal" textLength="146.7" lengthAdjust="spacingAndGlyphs">ATP degradation</text>
<text x="850.2" y="736.7" font-size="19.5" text-anchor="start" fill="#111" font-weight="normal" textLength="127.8" lengthAdjust="spacingAndGlyphs">Ketone bodies</text>
<text x="865.6" y="763.1" font-size="19.5" text-anchor="start" fill="#111" font-weight="normal" textLength="97.4" lengthAdjust="spacingAndGlyphs">production</text>
<text x="894.2" y="893.7" font-size="19.5" text-anchor="start" fill="#111" font-weight="normal" textLength="82.9" lengthAdjust="spacingAndGlyphs">TCA cycle</text>
<line x1="989.5" y1="27.6" x2="989.5" y2="1042.5" stroke="#000" stroke-width="1.9"/>
<line x1="988.5" y1="28.6" x2="997" y2="28.6" stroke="#000" stroke-width="2.0"/>
<line x1="988.5" y1="348.5" x2="997" y2="348.5" stroke="#000" stroke-width="3.4"/>
<line x1="988.5" y1="626.8" x2="997" y2="626.8" stroke="#000" stroke-width="2.0"/>
<line x1="988.5" y1="671.4" x2="997" y2="671.4" stroke="#000" stroke-width="2.8"/>
<line x1="988.5" y1="716.3" x2="997" y2="716.3" stroke="#000" stroke-width="3.0"/>
<line x1="988.5" y1="760.6" x2="997" y2="760.6" stroke="#000" stroke-width="4.4"/>
<line x1="988.5" y1="1041.5" x2="997" y2="1041.5" stroke="#000" stroke-width="2.0"/>
<g transform="translate(1014.0,1046.6) rotate(90)" fill="#000">
<text x="0" y="0" font-size="19.5" textLength="57.5" lengthAdjust="spacingAndGlyphs">Adck2</text>
<text x="58.5" y="-6.5" font-size="12.5" textLength="21.5" lengthAdjust="spacingAndGlyphs">+/+</text>
</g>
<g transform="translate(1059.0,1046.6) rotate(90)" fill="#000">
<text x="0" y="0" font-size="19.5" textLength="57.5" lengthAdjust="spacingAndGlyphs">Adck2</text>
<text x="58.5" y="-6.5" font-size="12.5" textLength="19" lengthAdjust="spacingAndGlyphs">+/-</text>
</g>
<g transform="translate(1105.6,1046.6) rotate(90)" fill="#000">
<text x="0" y="0" font-size="19.5" textLength="57.5" lengthAdjust="spacingAndGlyphs">Adck2</text>
<text x="58.5" y="-6.5" font-size="12.5" textLength="21.5" lengthAdjust="spacingAndGlyphs">+/+</text>
<text x="84.6" y="0" font-size="19.5" textLength="7" lengthAdjust="spacingAndGlyphs">_</text>
<text x="92.6" y="0" font-size="19.5" textLength="22" lengthAdjust="spacingAndGlyphs">CR</text>
</g>
<g transform="translate(1151.6,1046.6) rotate(90)" fill="#000">
<text x="0" y="0" font-size="19.5" textLength="57.5" lengthAdjust="spacingAndGlyphs">Adck2</text>
<text x="58.5" y="-6.5" font-size="12.5" textLength="19" lengthAdjust="spacingAndGlyphs">+/-</text>
<text x="81.4" y="0" font-size="19.5" textLength="7" lengthAdjust="spacingAndGlyphs">_</text>
<text x="91.4" y="0" font-size="19.5" textLength="22" lengthAdjust="spacingAndGlyphs">CR</text>
</g>
<text x="1297.2" y="27.3" font-size="21.5" text-anchor="start" fill="#3a3a3a" font-weight="normal" textLength="194.3" lengthAdjust="spacingAndGlyphs">(L group/WT group)-1</text>
<defs><linearGradient id="gB" x1="0" y1="1" x2="0" y2="0">
<stop offset="0.000" stop-color="#4575b4"/>
<stop offset="0.025" stop-color="#5080ba"/>
<stop offset="0.050" stop-color="#5c8bc0"/>
<stop offset="0.075" stop-color="#6796c6"/>
<stop offset="0.100" stop-color="#73a1cb"/>
<stop offset="0.125" stop-color="#7eadd1"/>
<stop offset="0.150" stop-color="#89b8d7"/>
<stop offset="0.175" stop-color="#95c1dc"/>
<stop offset="0.200" stop-color="#a1c8e0"/>
<stop offset="0.225" stop-color="#add0e3"/>
<stop offset="0.250" stop-color="#bad7e6"/>
<stop offset="0.275" stop-color="#c6deea"/>
<stop offset="0.300" stop-color="#d0e4ec"/>
<stop offset="0.325" stop-color="#d9e9ee"/>
<stop offset="0.350" stop-color="#dfece9"/>
<stop offset="0.375" stop-color="#e3ede2"/>
<stop offset="0.400" stop-color="#e7eedd"/>
<stop offset="0.425" stop-color="#ecf0d5"/>
<stop offset="0.450" stop-color="#f0f2cd"/>
<stop offset="0.475" stop-color="#f3f4c5"/>
<stop offset="0.500" stop-color="#f7f5bd"/>
<stop offset="0.525" stop-color="#f8f3b6"/>
<stop offset="0.550" stop-color="#f8f1af"/>
<stop offset="0.575" stop-color="#f9eda9"/>
<stop offset="0.600" stop-color="#f9eaa3"/>
<stop offset="0.625" stop-color="#f8e69d"/>
<stop offset="0.650" stop-color="#f7e197"/>
<stop offset="0.675" stop-color="#f5d991"/>
<stop offset="0.700" stop-color="#f1cd88"/>
<stop offset="0.725" stop-color="#edc482"/>
<stop offset="0.750" stop-color="#e9b97d"/>
<stop offset="0.775" stop-color="#e5ae77"/>
<stop offset="0.800" stop-color="#e0a372"/>
<stop offset="0.825" stop-color="#dc986c"/>
<stop offset="0.850" stop-color="#d98d66"/>
<stop offset="0.875" stop-color="#d6825f"/>
<stop offset="0.900" stop-color="#d27254"/>
<stop offset="0.925" stop-color="#cf624a"/>
<stop offset="0.950" stop-color="#cb523f"/>
<stop offset="0.975" stop-color="#c74335"/>
<stop offset="1.000" stop-color="#c4382c"/>
</linearGradient></defs>
<rect x="1397.5" y="40.5" width="15.200000000000045" height="230.3" fill="url(#gB)"/>
<line x1="1446.4" y1="36" x2="1446.4" y2="278" stroke="#8f8690" stroke-width="1.2"/>
<text x="1419.0" y="82.9" font-size="15.5" text-anchor="start" fill="#1a2030" font-weight="normal" stroke="#1a2030" stroke-width="0.6">1</text>
<text x="1419.0" y="123.5" font-size="15.5" text-anchor="start" fill="#1a2030" font-weight="normal" stroke="#1a2030" stroke-width="0.6">0.5</text>
<text x="1419.0" y="163.5" font-size="15.5" text-anchor="start" fill="#1a2030" font-weight="normal" stroke="#1a2030" stroke-width="0.6">0</text>
<text x="1419.0" y="203.5" font-size="15.5" text-anchor="start" fill="#1a2030" font-weight="normal" stroke="#1a2030" stroke-width="0.6">-0.5</text>
<text x="1419.0" y="242.7" font-size="15.5" text-anchor="start" fill="#1a2030" font-weight="normal" stroke="#1a2030" stroke-width="0.6">-1</text>
</g>
<g id="panelC">
<rect x="247.90" y="842.00" width="44.42" height="41.08" fill="#f7f5bd"/>
<rect x="292.02" y="842.00" width="44.42" height="41.08" fill="#f7f4ba"/>
<rect x="336.14" y="842.00" width="44.42" height="41.08" fill="#f7e197"/>
<rect x="380.26" y="842.00" width="44.42" height="41.08" fill="#f9efab"/>
<rect x="247.90" y="882.78" width="44.42" height="41.08" fill="#f7f5bd"/>
<rect x="292.02" y="882.78" width="44.42" height="41.08" fill="#f6de94"/>
<rect x="336.14" y="882.78" width="44.42" height="41.08" fill="#e8b57a"/>
<rect x="380.26" y="882.78" width="44.42" height="41.08" fill="#f7f4ba"/>
<rect x="247.90" y="923.56" width="44.42" height="41.08" fill="#f7f5bd"/>
<rect x="292.02" y="923.56" width="44.42" height="41.08" fill="#f1f3ca"/>
<rect x="336.14" y="923.56" width="44.42" height="41.08" fill="#c84838"/>
<rect x="380.26" y="923.56" width="44.42" height="41.08" fill="#cc5843"/>
<rect x="247.90" y="964.34" width="44.42" height="41.08" fill="#f7f5bd"/>
<rect x="292.02" y="964.34" width="44.42" height="41.08" fill="#f0f2cd"/>
<rect x="336.14" y="964.34" width="44.42" height="41.08" fill="#f6df95"/>
<rect x="380.26" y="964.34" width="44.42" height="41.08" fill="#f7f4b9"/>
<rect x="247.90" y="1005.11" width="44.42" height="41.08" fill="#f7f5bd"/>
<rect x="292.02" y="1005.11" width="44.42" height="41.08" fill="#f0f2cd"/>
<rect x="336.14" y="1005.11" width="44.42" height="41.08" fill="#f9eaa3"/>
<rect x="380.26" y="1005.11" width="44.42" height="41.08" fill="#f9eda9"/>
<rect x="247.90" y="1045.89" width="44.42" height="41.08" fill="#f7f5bd"/>
<rect x="292.02" y="1045.89" width="44.42" height="41.08" fill="#f4f4c3"/>
<rect x="336.14" y="1045.89" width="44.42" height="41.08" fill="#f7e197"/>
<rect x="380.26" y="1045.89" width="44.42" height="41.08" fill="#f9eaa3"/>
<rect x="247.90" y="1086.67" width="44.42" height="41.08" fill="#f7f5bd"/>
<rect x="292.02" y="1086.67" width="44.42" height="41.08" fill="#f7f5bd"/>
<rect x="336.14" y="1086.67" width="44.42" height="41.08" fill="#f8e8a0"/>
<rect x="380.26" y="1086.67" width="44.42" height="41.08" fill="#f8efad"/>
<rect x="247.90" y="1127.45" width="44.42" height="41.08" fill="#f7f5bd"/>
<rect x="292.02" y="1127.45" width="44.42" height="41.08" fill="#f1f3ca"/>
<rect x="336.14" y="1127.45" width="44.42" height="41.08" fill="#f8e8a0"/>
<rect x="380.26" y="1127.45" width="44.42" height="41.08" fill="#f8f1af"/>
<rect x="247.90" y="1168.23" width="44.42" height="41.08" fill="#f7f5bd"/>
<rect x="292.02" y="1168.23" width="44.42" height="41.08" fill="#f7f4b9"/>
<rect x="336.14" y="1168.23" width="44.42" height="41.08" fill="#f4d78f"/>
<rect x="380.26" y="1168.23" width="44.42" height="41.08" fill="#f9eaa3"/>
<rect x="247.90" y="1209.01" width="44.42" height="41.08" fill="#f7f5bd"/>
<rect x="292.02" y="1209.01" width="44.42" height="41.08" fill="#f7f5bd"/>
<rect x="336.14" y="1209.01" width="44.42" height="41.08" fill="#f1cd88"/>
<rect x="380.26" y="1209.01" width="44.42" height="41.08" fill="#f7f4ba"/>
<rect x="247.90" y="1249.79" width="44.42" height="41.08" fill="#f7f5bd"/>
<rect x="292.02" y="1249.79" width="44.42" height="41.08" fill="#f7f5bd"/>
<rect x="336.14" y="1249.79" width="44.42" height="41.08" fill="#f7e39a"/>
<rect x="380.26" y="1249.79" width="44.42" height="41.08" fill="#f8f3b6"/>
<rect x="247.90" y="1290.56" width="44.42" height="41.08" fill="#f7f5bd"/>
<rect x="292.02" y="1290.56" width="44.42" height="41.08" fill="#f5f4c2"/>
<rect x="336.14" y="1290.56" width="44.42" height="41.08" fill="#de9e70"/>
<rect x="380.26" y="1290.56" width="44.42" height="41.08" fill="#f6de94"/>
<rect x="247.90" y="1331.34" width="44.42" height="41.08" fill="#f7f5bd"/>
<rect x="292.02" y="1331.34" width="44.42" height="41.08" fill="#ecf0d5"/>
<rect x="336.14" y="1331.34" width="44.42" height="41.08" fill="#f9eda9"/>
<rect x="380.26" y="1331.34" width="44.42" height="41.08" fill="#f6f4c0"/>
<rect x="247.90" y="1372.12" width="44.42" height="41.08" fill="#f7f5bd"/>
<rect x="292.02" y="1372.12" width="44.42" height="41.08" fill="#f8f3b5"/>
<rect x="336.14" y="1372.12" width="44.42" height="41.08" fill="#f8e8a0"/>
<rect x="380.26" y="1372.12" width="44.42" height="41.08" fill="#f7f4ba"/>
<rect x="247.90" y="1412.90" width="44.42" height="41.08" fill="#f7f5bd"/>
<rect x="292.02" y="1412.90" width="44.42" height="41.08" fill="#f8f4b8"/>
<rect x="336.14" y="1412.90" width="44.42" height="41.08" fill="#ecc080"/>
<rect x="380.26" y="1412.90" width="44.42" height="41.08" fill="#f8e8a0"/>
<rect x="247.90" y="1453.68" width="44.42" height="41.08" fill="#f7f5bd"/>
<rect x="292.02" y="1453.68" width="44.42" height="41.08" fill="#f0f2cd"/>
<rect x="336.14" y="1453.68" width="44.42" height="41.08" fill="#f6f4c0"/>
<rect x="380.26" y="1453.68" width="44.42" height="41.08" fill="#f7f4ba"/>
<rect x="247.90" y="1494.46" width="44.42" height="41.08" fill="#f7f5bd"/>
<rect x="292.02" y="1494.46" width="44.42" height="41.08" fill="#f5f4c2"/>
<rect x="336.14" y="1494.46" width="44.42" height="41.08" fill="#f9eca6"/>
<rect x="380.26" y="1494.46" width="44.42" height="41.08" fill="#f6f4c0"/>
<rect x="247.90" y="1535.24" width="44.42" height="41.08" fill="#f7f5bd"/>
<rect x="292.02" y="1535.24" width="44.42" height="41.08" fill="#f7f5bd"/>
<rect x="336.14" y="1535.24" width="44.42" height="41.08" fill="#f1cd88"/>
<rect x="380.26" y="1535.24" width="44.42" height="41.08" fill="#f7f5bd"/>
<rect x="247.90" y="1576.01" width="44.42" height="41.08" fill="#f7f5bd"/>
<rect x="292.02" y="1576.01" width="44.42" height="41.08" fill="#f8efad"/>
<rect x="336.14" y="1576.01" width="44.42" height="41.08" fill="#c4382c"/>
<rect x="380.26" y="1576.01" width="44.42" height="41.08" fill="#d98d66"/>
<rect x="247.90" y="1616.79" width="44.42" height="41.08" fill="#f7f5bd"/>
<rect x="292.02" y="1616.79" width="44.42" height="41.08" fill="#f8e49b"/>
<rect x="336.14" y="1616.79" width="44.42" height="41.08" fill="#f6de94"/>
<rect x="380.26" y="1616.79" width="44.42" height="41.08" fill="#d27254"/>
<rect x="247.90" y="1657.57" width="44.42" height="41.08" fill="#f7f5bd"/>
<rect x="292.02" y="1657.57" width="44.42" height="41.08" fill="#f2f3c8"/>
<rect x="336.14" y="1657.57" width="44.42" height="41.08" fill="#ecc080"/>
<rect x="380.26" y="1657.57" width="44.42" height="41.08" fill="#f9eda9"/>
<rect x="247.90" y="1698.35" width="44.42" height="41.08" fill="#f7f5bd"/>
<rect x="292.02" y="1698.35" width="44.42" height="41.08" fill="#eaefd8"/>
<rect x="336.14" y="1698.35" width="44.42" height="41.08" fill="#f8e49b"/>
<rect x="380.26" y="1698.35" width="44.42" height="41.08" fill="#f8f2b2"/>
<rect x="247.90" y="1739.13" width="44.42" height="41.08" fill="#f7f5bd"/>
<rect x="292.02" y="1739.13" width="44.42" height="41.08" fill="#f2f3c8"/>
<rect x="336.14" y="1739.13" width="44.42" height="41.08" fill="#c94b3a"/>
<rect x="380.26" y="1739.13" width="44.42" height="41.08" fill="#f4d78f"/>
<rect x="247.90" y="1779.91" width="44.42" height="41.08" fill="#f7f5bd"/>
<rect x="292.02" y="1779.91" width="44.42" height="41.08" fill="#f7f5bd"/>
<rect x="336.14" y="1779.91" width="44.42" height="41.08" fill="#eec683"/>
<rect x="380.26" y="1779.91" width="44.42" height="41.08" fill="#f8f3b5"/>
<rect x="247.90" y="1820.69" width="44.42" height="41.08" fill="#f7f5bd"/>
<rect x="292.02" y="1820.69" width="44.42" height="41.08" fill="#f8f1af"/>
<rect x="336.14" y="1820.69" width="44.42" height="41.08" fill="#e6eddf"/>
<rect x="380.26" y="1820.69" width="44.42" height="41.08" fill="#f1f3ca"/>
<rect x="247.90" y="1861.46" width="44.42" height="41.08" fill="#f7f5bd"/>
<rect x="292.02" y="1861.46" width="44.42" height="41.08" fill="#f7f4ba"/>
<rect x="336.14" y="1861.46" width="44.42" height="41.08" fill="#f0f2cd"/>
<rect x="380.26" y="1861.46" width="44.42" height="41.08" fill="#e9efda"/>
<rect x="247.90" y="1902.24" width="44.42" height="41.08" fill="#f7f5bd"/>
<rect x="292.02" y="1902.24" width="44.42" height="41.08" fill="#f7f5bd"/>
<rect x="336.14" y="1902.24" width="44.42" height="41.08" fill="#f2f3c8"/>
<rect x="380.26" y="1902.24" width="44.42" height="41.08" fill="#f7f4b9"/>
<rect x="247.90" y="1943.02" width="44.42" height="41.08" fill="#f7f5bd"/>
<rect x="292.02" y="1943.02" width="44.42" height="41.08" fill="#f7f4ba"/>
<rect x="336.14" y="1943.02" width="44.42" height="41.08" fill="#eaefd8"/>
<rect x="380.26" y="1943.02" width="44.42" height="41.08" fill="#f3f4c5"/>
<line x1="247.20" y1="842.00" x2="425.08" y2="842.00" stroke="#1c1c1c" stroke-width="1.6"/>
<line x1="247.20" y1="882.78" x2="425.08" y2="882.78" stroke="#1c1c1c" stroke-width="1.6"/>
<line x1="247.20" y1="923.56" x2="425.08" y2="923.56" stroke="#1c1c1c" stroke-width="1.6"/>
<line x1="247.20" y1="964.34" x2="425.08" y2="964.34" stroke="#1c1c1c" stroke-width="1.6"/>
<line x1="247.20" y1="1005.11" x2="425.08" y2="1005.11" stroke="#1c1c1c" stroke-width="1.6"/>
<line x1="247.20" y1="1045.89" x2="425.08" y2="1045.89" stroke="#1c1c1c" stroke-width="1.6"/>
<line x1="247.20" y1="1086.67" x2="425.08" y2="1086.67" stroke="#1c1c1c" stroke-width="1.6"/>
<line x1="247.20" y1="1127.45" x2="425.08" y2="1127.45" stroke="#1c1c1c" stroke-width="1.6"/>
<line x1="247.20" y1="1168.23" x2="425.08" y2="1168.23" stroke="#1c1c1c" stroke-width="1.6"/>
<line x1="247.20" y1="1209.01" x2="425.08" y2="1209.01" stroke="#1c1c1c" stroke-width="1.6"/>
<line x1="247.20" y1="1249.79" x2="425.08" y2="1249.79" stroke="#1c1c1c" stroke-width="1.6"/>
<line x1="247.20" y1="1290.56" x2="425.08" y2="1290.56" stroke="#1c1c1c" stroke-width="1.6"/>
<line x1="247.20" y1="1331.34" x2="425.08" y2="1331.34" stroke="#1c1c1c" stroke-width="1.6"/>
<line x1="247.20" y1="1372.12" x2="425.08" y2="1372.12" stroke="#1c1c1c" stroke-width="1.6"/>
<line x1="247.20" y1="1412.90" x2="425.08" y2="1412.90" stroke="#1c1c1c" stroke-width="1.6"/>
<line x1="247.20" y1="1453.68" x2="425.08" y2="1453.68" stroke="#1c1c1c" stroke-width="1.6"/>
<line x1="247.20" y1="1494.46" x2="425.08" y2="1494.46" stroke="#1c1c1c" stroke-width="1.6"/>
<line x1="247.20" y1="1535.24" x2="425.08" y2="1535.24" stroke="#1c1c1c" stroke-width="1.6"/>
<line x1="247.20" y1="1576.01" x2="425.08" y2="1576.01" stroke="#1c1c1c" stroke-width="1.6"/>
<line x1="247.20" y1="1616.79" x2="425.08" y2="1616.79" stroke="#1c1c1c" stroke-width="1.6"/>
<line x1="247.20" y1="1657.57" x2="425.08" y2="1657.57" stroke="#1c1c1c" stroke-width="1.6"/>
<line x1="247.20" y1="1698.35" x2="425.08" y2="1698.35" stroke="#1c1c1c" stroke-width="1.6"/>
<line x1="247.20" y1="1739.13" x2="425.08" y2="1739.13" stroke="#1c1c1c" stroke-width="1.6"/>
<line x1="247.20" y1="1779.91" x2="425.08" y2="1779.91" stroke="#1c1c1c" stroke-width="1.6"/>
<line x1="247.20" y1="1820.69" x2="425.08" y2="1820.69" stroke="#1c1c1c" stroke-width="1.6"/>
<line x1="247.20" y1="1861.46" x2="425.08" y2="1861.46" stroke="#1c1c1c" stroke-width="1.6"/>
<line x1="247.20" y1="1902.24" x2="425.08" y2="1902.24" stroke="#1c1c1c" stroke-width="1.6"/>
<line x1="247.20" y1="1943.02" x2="425.08" y2="1943.02" stroke="#1c1c1c" stroke-width="1.6"/>
<line x1="247.20" y1="1983.80" x2="425.08" y2="1983.80" stroke="#1c1c1c" stroke-width="1.6"/>
<line x1="247.90" y1="842.00" x2="247.90" y2="1983.80" stroke="#1c1c1c" stroke-width="1.4"/>
<line x1="292.02" y1="842.00" x2="292.02" y2="1983.80" stroke="#1c1c1c" stroke-width="1.4"/>
<line x1="336.14" y1="842.00" x2="336.14" y2="1983.80" stroke="#1c1c1c" stroke-width="1.4"/>
<line x1="380.26" y1="842.00" x2="380.26" y2="1983.80" stroke="#1c1c1c" stroke-width="1.4"/>
<line x1="424.38" y1="842.00" x2="424.38" y2="1983.80" stroke="#1c1c1c" stroke-width="1.4"/>
<rect x="336.5" y="1983.6" width="44" height="1.6" fill="#b8323a"/>
<rect x="381" y="1983.8" width="44" height="1.4" fill="#2a4f9a"/>
<text x="435.6" y="870.8" font-size="18.5" text-anchor="start" fill="#444" font-weight="normal" textLength="187.6" lengthAdjust="spacingAndGlyphs">2-monopalmitic acid</text>
<text x="436.2" y="908.7" font-size="18.5" text-anchor="start" fill="#444" font-weight="normal" textLength="128.3" lengthAdjust="spacingAndGlyphs">Myristate acid</text>
<text x="435.2" y="951.5" font-size="18.5" text-anchor="start" fill="#444" font-weight="normal" textLength="104.8" lengthAdjust="spacingAndGlyphs">Stearic acid</text>
<text x="432.3" y="991.9" font-size="18.5" text-anchor="start" fill="#444" font-weight="normal" textLength="98.5" lengthAdjust="spacingAndGlyphs">Adipic acid</text>
<text x="435.2" y="1032.5" font-size="18.5" text-anchor="start" fill="#444" font-weight="normal" textLength="103.3" lengthAdjust="spacingAndGlyphs">Cholesterol</text>
<text x="435.2" y="1074.8" font-size="18.5" text-anchor="start" fill="#444" font-weight="normal" textLength="66.9" lengthAdjust="spacingAndGlyphs">Glycine</text>
<text x="433.7" y="1116.2" font-size="18.5" text-anchor="start" fill="#444" font-weight="normal" textLength="127.8" lengthAdjust="spacingAndGlyphs">Phenylalanine</text>
<text x="433.7" y="1153.3" font-size="18.5" text-anchor="start" fill="#444" font-weight="normal" textLength="73.6" lengthAdjust="spacingAndGlyphs">Tyrosine</text>
<text x="433.7" y="1194.9" font-size="18.5" text-anchor="start" fill="#444" font-weight="normal" textLength="90.7" lengthAdjust="spacingAndGlyphs">Isoleucine</text>
<text x="433.7" y="1232.6" font-size="18.5" text-anchor="start" fill="#444" font-weight="normal" textLength="69.1" lengthAdjust="spacingAndGlyphs">Leucine</text>
<text x="432.3" y="1276.7" font-size="18.5" text-anchor="start" fill="#444" font-weight="normal" textLength="91.1" lengthAdjust="spacingAndGlyphs">Threonine</text>
<text x="433.3" y="1315.9" font-size="18.5" text-anchor="start" fill="#444" font-weight="normal" textLength="115.5" lengthAdjust="spacingAndGlyphs">Aspartic acid</text>
<text x="434.8" y="1354.5" font-size="18.5" text-anchor="start" fill="#444" font-weight="normal" textLength="106.6" lengthAdjust="spacingAndGlyphs">Methionine</text>
<text x="434.8" y="1393.6" font-size="18.5" text-anchor="start" fill="#444" font-weight="normal" textLength="55.9" lengthAdjust="spacingAndGlyphs">Lysine</text>
<text x="433.7" y="1439.6" font-size="18.5" text-anchor="start" fill="#444" font-weight="normal" textLength="63.7" lengthAdjust="spacingAndGlyphs">Proline</text>
<text x="432.3" y="1481.4" font-size="18.5" text-anchor="start" fill="#444" font-weight="normal" textLength="68.6" lengthAdjust="spacingAndGlyphs">Alanine</text>
<text x="434.8" y="1519.6" font-size="18.5" text-anchor="start" fill="#444" font-weight="normal" textLength="57.0" lengthAdjust="spacingAndGlyphs">Serine</text>
<text x="434.8" y="1562.9" font-size="18.5" text-anchor="start" fill="#444" font-weight="normal" textLength="57.0" lengthAdjust="spacingAndGlyphs">Valine</text>
<text x="434.8" y="1603.3" font-size="18.5" text-anchor="start" fill="#444" font-weight="normal" textLength="123.1" lengthAdjust="spacingAndGlyphs">Glutamic acid</text>
<text x="434.8" y="1642.2" font-size="18.5" text-anchor="start" fill="#444" font-weight="normal" textLength="95.5" lengthAdjust="spacingAndGlyphs">Glutamine</text>
<text x="434.8" y="1684.3" font-size="18.5" text-anchor="start" fill="#444" font-weight="normal" textLength="114.3" lengthAdjust="spacingAndGlyphs">Hypoxantine</text>
<text x="434.8" y="1726.6" font-size="18.5" text-anchor="start" fill="#444" font-weight="normal" textLength="192.8" lengthAdjust="spacingAndGlyphs">3-Hydroxybutiric acid</text>
<text x="437.1" y="1768.4" font-size="18.5" text-anchor="start" fill="#444" font-weight="normal" textLength="61.3" lengthAdjust="spacingAndGlyphs">Citrate</text>
<text x="437.1" y="1807.3" font-size="18.5" text-anchor="start" fill="#444" font-weight="normal" textLength="87.3" lengthAdjust="spacingAndGlyphs">Ornithine</text>
<text x="434.3" y="1849.0" font-size="18.5" text-anchor="start" fill="#444" font-weight="normal" textLength="72.2" lengthAdjust="spacingAndGlyphs">Glucose</text>
<text x="434.3" y="1889.1" font-size="18.5" text-anchor="start" fill="#444" font-weight="normal" textLength="108.1" lengthAdjust="spacingAndGlyphs">Fructose 6P</text>
<text x="434.3" y="1928.3" font-size="18.5" text-anchor="start" fill="#444" font-weight="normal" textLength="80.1" lengthAdjust="spacingAndGlyphs">Pyruvate</text>
<text x="434.3" y="1969.0" font-size="18.5" text-anchor="start" fill="#444" font-weight="normal" textLength="66.6" lengthAdjust="spacingAndGlyphs">Lactate</text>
<text x="114.5" y="937.9" font-size="18" text-anchor="start" fill="#000" font-weight="normal" textLength="99.6" lengthAdjust="spacingAndGlyphs" stroke="#000" stroke-width="0.35">Fatty acids</text>
<text x="112.3" y="963.1" font-size="18" text-anchor="start" fill="#000" font-weight="normal" textLength="104.9" lengthAdjust="spacingAndGlyphs" stroke="#000" stroke-width="0.35">β-oxidation</text>
<text x="101.5" y="1241.2" font-size="18" text-anchor="start" fill="#000" font-weight="normal" textLength="100.2" lengthAdjust="spacingAndGlyphs" stroke="#000" stroke-width="0.35">Proteolysis</text>
<text x="104.5" y="1617.4" font-size="18" text-anchor="start" fill="#000" font-weight="normal" textLength="95.5" lengthAdjust="spacingAndGlyphs" stroke="#000" stroke-width="0.35">Urea cycle</text>
<text x="63.2" y="1678.8" font-size="18" text-anchor="start" fill="#000" font-weight="normal" textLength="151.5" lengthAdjust="spacingAndGlyphs" stroke="#000" stroke-width="0.35">ATP degradation</text>
<text x="86.3" y="1712.0" font-size="18" text-anchor="start" fill="#000" font-weight="normal" textLength="131.2" lengthAdjust="spacingAndGlyphs" stroke="#000" stroke-width="0.35">Ketone bodies</text>
<text x="101.0" y="1736.8" font-size="18" text-anchor="start" fill="#000" font-weight="normal" textLength="101.8" lengthAdjust="spacingAndGlyphs" stroke="#000" stroke-width="0.35">production</text>
<text x="124.9" y="1851.4" font-size="18" text-anchor="start" fill="#000" font-weight="normal" textLength="89.5" lengthAdjust="spacingAndGlyphs" stroke="#000" stroke-width="0.35">TCA cycle</text>
<line x1="226.8" y1="844" x2="226.8" y2="1986.5" stroke="#000" stroke-width="2.0"/>
<line x1="225.8" y1="845" x2="236.5" y2="845" stroke="#000" stroke-width="2.0"/>
<line x1="225.8" y1="1047.8" x2="236.5" y2="1047.8" stroke="#000" stroke-width="3.2"/>
<line x1="225.8" y1="1576.5" x2="236.5" y2="1576.5" stroke="#000" stroke-width="2.0"/>
<line x1="225.8" y1="1654.6" x2="236.5" y2="1654.6" stroke="#000" stroke-width="3.2"/>
<line x1="225.8" y1="1696.2" x2="236.5" y2="1696.2" stroke="#000" stroke-width="2.0"/>
<line x1="225.8" y1="1740" x2="236.5" y2="1740" stroke="#000" stroke-width="3.2"/>
<line x1="225.8" y1="1985.5" x2="236.5" y2="1985.5" stroke="#000" stroke-width="2.0"/>
<g transform="translate(268.4,1986.8) rotate(90)" fill="#000">
<text x="0" y="0" font-size="20.5" textLength="56.5" lengthAdjust="spacingAndGlyphs">Adck2</text>
<text x="57.5" y="-7" font-size="12.5" textLength="19.5" lengthAdjust="spacingAndGlyphs">+/+</text>
</g>
<g transform="translate(313.3,1986.8) rotate(90)" fill="#000">
<text x="0" y="0" font-size="20.5" textLength="56.5" lengthAdjust="spacingAndGlyphs">Adck2</text>
<text x="57.5" y="-7" font-size="12.5" textLength="17.5" lengthAdjust="spacingAndGlyphs">+/-</text>
</g>
<g transform="translate(356.7,1986.8) rotate(90)" fill="#000">
<text x="0" y="0" font-size="20.5" textLength="56.5" lengthAdjust="spacingAndGlyphs">Adck2</text>
<text x="57.5" y="-7" font-size="12.5" textLength="19.5" lengthAdjust="spacingAndGlyphs">+/+</text>
<text x="82.5" y="0" font-size="20.5" textLength="7" lengthAdjust="spacingAndGlyphs">_</text>
<text x="92.3" y="0" font-size="20.5" textLength="20.4" lengthAdjust="spacingAndGlyphs">CR</text>
</g>
<g transform="translate(402.0,1986.8) rotate(90)" fill="#000">
<text x="0" y="0" font-size="20.5" textLength="56.5" lengthAdjust="spacingAndGlyphs">Adck2</text>
<text x="57.5" y="-7" font-size="12.5" textLength="17.5" lengthAdjust="spacingAndGlyphs">+/-</text>
<text x="78.3" y="0" font-size="20.5" textLength="7" lengthAdjust="spacingAndGlyphs">_</text>
<text x="89.5" y="0" font-size="20.5" textLength="19.6" lengthAdjust="spacingAndGlyphs">CR</text>
</g>
<text x="602.4" y="816.0" font-size="20" text-anchor="start" fill="#3a3a3a" font-weight="normal" textLength="196.6" lengthAdjust="spacingAndGlyphs">(L group/WT group)-1</text>
<defs><linearGradient id="gC" x1="0" y1="1" x2="0" y2="0">
<stop offset="0.000" stop-color="#4575b4"/>
<stop offset="0.025" stop-color="#5080ba"/>
<stop offset="0.050" stop-color="#5c8bc0"/>
<stop offset="0.075" stop-color="#6796c6"/>
<stop offset="0.100" stop-color="#73a1cb"/>
<stop offset="0.125" stop-color="#7eadd1"/>
<stop offset="0.150" stop-color="#89b8d7"/>
<stop offset="0.175" stop-color="#95c1dc"/>
<stop offset="0.200" stop-color="#a1c8e0"/>
<stop offset="0.225" stop-color="#add0e3"/>
<stop offset="0.250" stop-color="#bad7e6"/>
<stop offset="0.275" stop-color="#c6deea"/>
<stop offset="0.300" stop-color="#d0e4ec"/>
<stop offset="0.325" stop-color="#d9e9ee"/>
<stop offset="0.350" stop-color="#dfece9"/>
<stop offset="0.375" stop-color="#e3ede2"/>
<stop offset="0.400" stop-color="#e7eedd"/>
<stop offset="0.425" stop-color="#ecf0d5"/>
<stop offset="0.450" stop-color="#f0f2cd"/>
<stop offset="0.475" stop-color="#f3f4c5"/>
<stop offset="0.500" stop-color="#f7f5bd"/>
<stop offset="0.525" stop-color="#f8f3b6"/>
<stop offset="0.550" stop-color="#f8f1af"/>
<stop offset="0.575" stop-color="#f9eda9"/>
<stop offset="0.600" stop-color="#f9eaa3"/>
<stop offset="0.625" stop-color="#f8e69d"/>
<stop offset="0.650" stop-color="#f7e197"/>
<stop offset="0.675" stop-color="#f5d991"/>
<stop offset="0.700" stop-color="#f1cd88"/>
<stop offset="0.725" stop-color="#edc482"/>
<stop offset="0.750" stop-color="#e9b97d"/>
<stop offset="0.775" stop-color="#e5ae77"/>
<stop offset="0.800" stop-color="#e0a372"/>
<stop offset="0.825" stop-color="#dc986c"/>
<stop offset="0.850" stop-color="#d98d66"/>
<stop offset="0.875" stop-color="#d6825f"/>
<stop offset="0.900" stop-color="#d27254"/>
<stop offset="0.925" stop-color="#cf624a"/>
<stop offset="0.950" stop-color="#cb523f"/>
<stop offset="0.975" stop-color="#c74335"/>
<stop offset="1.000" stop-color="#c4382c"/>
</linearGradient></defs>
<rect x="692.2" y="837.6" width="15.099999999999909" height="217.4999999999999" fill="url(#gC)"/>
<text x="714.0" y="861.6" font-size="14.5" text-anchor="start" fill="#1a2030" font-weight="normal" stroke="#1a2030" stroke-width="0.6">3</text>
<text x="714.0" y="893.1" font-size="14.5" text-anchor="start" fill="#1a2030" font-weight="normal" stroke="#1a2030" stroke-width="0.6">2</text>
<text x="714.0" y="923.5" font-size="14.5" text-anchor="start" fill="#1a2030" font-weight="normal" stroke="#1a2030" stroke-width="0.6">1</text>
<text x="714.0" y="953.4" font-size="14.5" text-anchor="start" fill="#1a2030" font-weight="normal" stroke="#1a2030" stroke-width="0.6">0</text>
<text x="714.0" y="984.3" font-size="14.5" text-anchor="start" fill="#1a2030" font-weight="normal" stroke="#1a2030" stroke-width="0.6">-1</text>
<text x="714.0" y="1014.7" font-size="14.5" text-anchor="start" fill="#1a2030" font-weight="normal" stroke="#1a2030" stroke-width="0.6">-2</text>
<text x="714.0" y="1045.7" font-size="14.5" text-anchor="start" fill="#1a2030" font-weight="normal" stroke="#1a2030" stroke-width="0.6">-3</text>
</g>
<g id="panelD">
<rect x="932.30" y="1187.40" width="47.60" height="47.83" fill="#f7f5bd"/>
<rect x="979.60" y="1187.40" width="47.60" height="47.83" fill="#f4f4c3"/>
<rect x="1026.90" y="1187.40" width="47.60" height="47.83" fill="#f8e8a0"/>
<rect x="1074.20" y="1187.40" width="47.60" height="47.83" fill="#f7f5bd"/>
<rect x="932.30" y="1234.93" width="47.60" height="47.83" fill="#f7f5bd"/>
<rect x="979.60" y="1234.93" width="47.60" height="47.83" fill="#f7f5bd"/>
<rect x="1026.90" y="1234.93" width="47.60" height="47.83" fill="#f0c986"/>
<rect x="1074.20" y="1234.93" width="47.60" height="47.83" fill="#f8e8a0"/>
<rect x="932.30" y="1282.47" width="47.60" height="47.83" fill="#f7f5bd"/>
<rect x="979.60" y="1282.47" width="47.60" height="47.83" fill="#f8e69d"/>
<rect x="1026.90" y="1282.47" width="47.60" height="47.83" fill="#e9b97d"/>
<rect x="1074.20" y="1282.47" width="47.60" height="47.83" fill="#f8e69d"/>
<rect x="932.30" y="1330.00" width="47.60" height="47.83" fill="#f7f5bd"/>
<rect x="979.60" y="1330.00" width="47.60" height="47.83" fill="#f0f2cd"/>
<rect x="1026.90" y="1330.00" width="47.60" height="47.83" fill="#f8f2b2"/>
<rect x="1074.20" y="1330.00" width="47.60" height="47.83" fill="#f7f5bd"/>
<rect x="932.30" y="1377.53" width="47.60" height="47.83" fill="#f7f5bd"/>
<rect x="979.60" y="1377.53" width="47.60" height="47.83" fill="#f7f5bd"/>
<rect x="1026.90" y="1377.53" width="47.60" height="47.83" fill="#f6de94"/>
<rect x="1074.20" y="1377.53" width="47.60" height="47.83" fill="#f8e8a0"/>
<rect x="932.30" y="1425.07" width="47.60" height="47.83" fill="#f7f5bd"/>
<rect x="979.60" y="1425.07" width="47.60" height="47.83" fill="#f1f3ca"/>
<rect x="1026.90" y="1425.07" width="47.60" height="47.83" fill="#e6eddf"/>
<rect x="1074.20" y="1425.07" width="47.60" height="47.83" fill="#e3ede2"/>
<rect x="932.30" y="1472.60" width="47.60" height="47.83" fill="#f7f5bd"/>
<rect x="979.60" y="1472.60" width="47.60" height="47.83" fill="#f7f5bd"/>
<rect x="1026.90" y="1472.60" width="47.60" height="47.83" fill="#e2ece4"/>
<rect x="1074.20" y="1472.60" width="47.60" height="47.83" fill="#e6eddf"/>
<rect x="932.30" y="1520.13" width="47.60" height="47.83" fill="#f7f5bd"/>
<rect x="979.60" y="1520.13" width="47.60" height="47.83" fill="#f8e49b"/>
<rect x="1026.90" y="1520.13" width="47.60" height="47.83" fill="#e6eddf"/>
<rect x="1074.20" y="1520.13" width="47.60" height="47.83" fill="#eaefd8"/>
<rect x="932.30" y="1567.67" width="47.60" height="47.83" fill="#f7f5bd"/>
<rect x="979.60" y="1567.67" width="47.60" height="47.83" fill="#f7e39a"/>
<rect x="1026.90" y="1567.67" width="47.60" height="47.83" fill="#daeaee"/>
<rect x="1074.20" y="1567.67" width="47.60" height="47.83" fill="#e7eedd"/>
<rect x="932.30" y="1615.20" width="47.60" height="47.83" fill="#f7f5bd"/>
<rect x="979.60" y="1615.20" width="47.60" height="47.83" fill="#f1f3ca"/>
<rect x="1026.90" y="1615.20" width="47.60" height="47.83" fill="#eef1d2"/>
<rect x="1074.20" y="1615.20" width="47.60" height="47.83" fill="#dfece9"/>
<rect x="932.30" y="1662.73" width="47.60" height="47.83" fill="#f7f5bd"/>
<rect x="979.60" y="1662.73" width="47.60" height="47.83" fill="#f8f3b6"/>
<rect x="1026.90" y="1662.73" width="47.60" height="47.83" fill="#d4e6ed"/>
<rect x="1074.20" y="1662.73" width="47.60" height="47.83" fill="#dcebee"/>
<rect x="932.30" y="1710.27" width="47.60" height="47.83" fill="#f7f5bd"/>
<rect x="979.60" y="1710.27" width="47.60" height="47.83" fill="#f5f4c2"/>
<rect x="1026.90" y="1710.27" width="47.60" height="47.83" fill="#e7eedd"/>
<rect x="1074.20" y="1710.27" width="47.60" height="47.83" fill="#d7e8ed"/>
<rect x="932.30" y="1757.80" width="47.60" height="47.83" fill="#f7f5bd"/>
<rect x="979.60" y="1757.80" width="47.60" height="47.83" fill="#f8e69d"/>
<rect x="1026.90" y="1757.80" width="47.60" height="47.83" fill="#f3f4c5"/>
<rect x="1074.20" y="1757.80" width="47.60" height="47.83" fill="#eaefd8"/>
<rect x="932.30" y="1805.33" width="47.60" height="47.83" fill="#f7f5bd"/>
<rect x="979.60" y="1805.33" width="47.60" height="47.83" fill="#f8f2b2"/>
<rect x="1026.90" y="1805.33" width="47.60" height="47.83" fill="#e7eedd"/>
<rect x="1074.20" y="1805.33" width="47.60" height="47.83" fill="#e6eddf"/>
<rect x="932.30" y="1852.87" width="47.60" height="47.83" fill="#f7f5bd"/>
<rect x="979.60" y="1852.87" width="47.60" height="47.83" fill="#cde2ec"/>
<rect x="1026.90" y="1852.87" width="47.60" height="47.83" fill="#f8efad"/>
<rect x="1074.20" y="1852.87" width="47.60" height="47.83" fill="#eef1d0"/>
<rect x="932.30" y="1900.40" width="47.60" height="47.83" fill="#f7f5bd"/>
<rect x="979.60" y="1900.40" width="47.60" height="47.83" fill="#f7e39a"/>
<rect x="1026.90" y="1900.40" width="47.60" height="47.83" fill="#d27254"/>
<rect x="1074.20" y="1900.40" width="47.60" height="47.83" fill="#c74335"/>
<rect x="932.30" y="1947.93" width="47.60" height="47.83" fill="#f7f5bd"/>
<rect x="979.60" y="1947.93" width="47.60" height="47.83" fill="#f9eaa3"/>
<rect x="1026.90" y="1947.93" width="47.60" height="47.83" fill="#de9e70"/>
<rect x="1074.20" y="1947.93" width="47.60" height="47.83" fill="#dd9a6d"/>
<rect x="932.30" y="1995.47" width="47.60" height="47.83" fill="#f7f5bd"/>
<rect x="979.60" y="1995.47" width="47.60" height="47.83" fill="#f1f3ca"/>
<rect x="1026.90" y="1995.47" width="47.60" height="47.83" fill="#f2d28b"/>
<rect x="1074.20" y="1995.47" width="47.60" height="47.83" fill="#c4382c"/>
<rect x="932.30" y="2043.00" width="47.60" height="47.83" fill="#f7f5bd"/>
<rect x="979.60" y="2043.00" width="47.60" height="47.83" fill="#f3f3c6"/>
<rect x="1026.90" y="2043.00" width="47.60" height="47.83" fill="#f9eba5"/>
<rect x="1074.20" y="2043.00" width="47.60" height="47.83" fill="#f4d78f"/>
<rect x="932.30" y="2090.53" width="47.60" height="47.83" fill="#f7f5bd"/>
<rect x="979.60" y="2090.53" width="47.60" height="47.83" fill="#f7e197"/>
<rect x="1026.90" y="2090.53" width="47.60" height="47.83" fill="#edc482"/>
<rect x="1074.20" y="2090.53" width="47.60" height="47.83" fill="#f9eaa3"/>
<rect x="932.30" y="2138.07" width="47.60" height="47.83" fill="#f7f5bd"/>
<rect x="979.60" y="2138.07" width="47.60" height="47.83" fill="#f9eaa3"/>
<rect x="1026.90" y="2138.07" width="47.60" height="47.83" fill="#f6df95"/>
<rect x="1074.20" y="2138.07" width="47.60" height="47.83" fill="#f1f3ca"/>
<line x1="931.45" y1="1187.40" x2="1122.35" y2="1187.40" stroke="#1c1c1c" stroke-width="1.8"/>
<line x1="931.45" y1="1234.93" x2="1122.35" y2="1234.93" stroke="#1c1c1c" stroke-width="1.8"/>
<line x1="931.45" y1="1282.47" x2="1122.35" y2="1282.47" stroke="#1c1c1c" stroke-width="1.8"/>
<line x1="931.45" y1="1330.00" x2="1122.35" y2="1330.00" stroke="#1c1c1c" stroke-width="1.8"/>
<line x1="931.45" y1="1377.53" x2="1122.35" y2="1377.53" stroke="#1c1c1c" stroke-width="1.8"/>
<line x1="931.45" y1="1425.07" x2="1122.35" y2="1425.07" stroke="#1c1c1c" stroke-width="1.8"/>
<line x1="931.45" y1="1472.60" x2="1122.35" y2="1472.60" stroke="#1c1c1c" stroke-width="1.8"/>
<line x1="931.45" y1="1520.13" x2="1122.35" y2="1520.13" stroke="#1c1c1c" stroke-width="1.8"/>
<line x1="931.45" y1="1567.67" x2="1122.35" y2="1567.67" stroke="#1c1c1c" stroke-width="1.8"/>
<line x1="931.45" y1="1615.20" x2="1122.35" y2="1615.20" stroke="#1c1c1c" stroke-width="1.8"/>
<line x1="931.45" y1="1662.73" x2="1122.35" y2="1662.73" stroke="#1c1c1c" stroke-width="1.8"/>
<line x1="931.45" y1="1710.27" x2="1122.35" y2="1710.27" stroke="#1c1c1c" stroke-width="1.8"/>
<line x1="931.45" y1="1757.80" x2="1122.35" y2="1757.80" stroke="#1c1c1c" stroke-width="1.8"/>
<line x1="931.45" y1="1805.33" x2="1122.35" y2="1805.33" stroke="#1c1c1c" stroke-width="1.8"/>
<line x1="931.45" y1="1852.87" x2="1122.35" y2="1852.87" stroke="#1c1c1c" stroke-width="1.8"/>
<line x1="931.45" y1="1900.40" x2="1122.35" y2="1900.40" stroke="#1c1c1c" stroke-width="1.8"/>
<line x1="931.45" y1="1947.93" x2="1122.35" y2="1947.93" stroke="#1c1c1c" stroke-width="1.8"/>
<line x1="931.45" y1="1995.47" x2="1122.35" y2="1995.47" stroke="#1c1c1c" stroke-width="1.8"/>
<line x1="931.45" y1="2043.00" x2="1122.35" y2="2043.00" stroke="#1c1c1c" stroke-width="1.8"/>
<line x1="931.45" y1="2090.53" x2="1122.35" y2="2090.53" stroke="#1c1c1c" stroke-width="1.8"/>
<line x1="931.45" y1="2138.07" x2="1122.35" y2="2138.07" stroke="#1c1c1c" stroke-width="1.8"/>
<line x1="931.45" y1="2185.60" x2="1122.35" y2="2185.60" stroke="#1c1c1c" stroke-width="1.8"/>
<line x1="932.30" y1="1187.40" x2="932.30" y2="2185.60" stroke="#1c1c1c" stroke-width="1.7"/>
<line x1="979.60" y1="1187.40" x2="979.60" y2="2185.60" stroke="#1c1c1c" stroke-width="1.7"/>
<line x1="1026.90" y1="1187.40" x2="1026.90" y2="2185.60" stroke="#1c1c1c" stroke-width="1.7"/>
<line x1="1074.20" y1="1187.40" x2="1074.20" y2="2185.60" stroke="#1c1c1c" stroke-width="1.7"/>
<line x1="1121.50" y1="1187.40" x2="1121.50" y2="2185.60" stroke="#1c1c1c" stroke-width="1.7"/>
<rect x="1027" y="2185.4" width="47" height="1.6" fill="#c0282d"/>
<rect x="1074.5" y="2185.6" width="47.5" height="1.4" fill="#23448f"/>
<text x="1126.2" y="1219.9" font-size="20.5" text-anchor="start" fill="#262626" font-weight="normal" textLength="91.5" lengthAdjust="spacingAndGlyphs">Palmitate</text>
<text x="1126.2" y="1267.9" font-size="20.5" text-anchor="start" fill="#262626" font-weight="normal" textLength="90.3" lengthAdjust="spacingAndGlyphs">Myristate</text>
<text x="1126.2" y="1314.1" font-size="20.5" text-anchor="start" fill="#262626" font-weight="normal" textLength="115.7" lengthAdjust="spacingAndGlyphs">Linoleic acid</text>
<text x="1126.2" y="1362.6" font-size="20.5" text-anchor="start" fill="#262626" font-weight="normal" textLength="108.8" lengthAdjust="spacingAndGlyphs">Stearic acid</text>
<text x="1126.2" y="1409.5" font-size="20.5" text-anchor="start" fill="#262626" font-weight="normal" textLength="107.6" lengthAdjust="spacingAndGlyphs">Cholesterol</text>
<text x="1125.4" y="1457.2" font-size="20.5" text-anchor="start" fill="#262626" font-weight="normal" textLength="69.5" lengthAdjust="spacingAndGlyphs">Glycine</text>
<text x="1127.2" y="1504.9" font-size="20.5" text-anchor="start" fill="#262626" font-weight="normal" textLength="95.6" lengthAdjust="spacingAndGlyphs">Threonine</text>
<text x="1124.8" y="1551.1" font-size="20.5" text-anchor="start" fill="#262626" font-weight="normal" textLength="72.6" lengthAdjust="spacingAndGlyphs">Leucine</text>
<text x="1124.8" y="1600.7" font-size="20.5" text-anchor="start" fill="#262626" font-weight="normal" textLength="95.5" lengthAdjust="spacingAndGlyphs">Isoleucine</text>
<text x="1127.3" y="1646.9" font-size="20.5" text-anchor="start" fill="#262626" font-weight="normal" textLength="79.4" lengthAdjust="spacingAndGlyphs">Tyrosine</text>
<text x="1124.8" y="1694.3" font-size="20.5" text-anchor="start" fill="#262626" font-weight="normal" textLength="111.2" lengthAdjust="spacingAndGlyphs">Methionine</text>
<text x="1124.8" y="1741.6" font-size="20.5" text-anchor="start" fill="#262626" font-weight="normal" textLength="57.9" lengthAdjust="spacingAndGlyphs">Lysine</text>
<text x="1124.8" y="1788.9" font-size="20.5" text-anchor="start" fill="#262626" font-weight="normal" textLength="67.2" lengthAdjust="spacingAndGlyphs">Proline</text>
<text x="1124.8" y="1835.8" font-size="20.5" text-anchor="start" fill="#262626" font-weight="normal" textLength="60.3" lengthAdjust="spacingAndGlyphs">Serine</text>
<text x="1125.4" y="1885.5" font-size="20.5" text-anchor="start" fill="#262626" font-weight="normal" textLength="202.0" lengthAdjust="spacingAndGlyphs">3-Hydroxybutiric acid</text>
<text x="1125.4" y="1931.3" font-size="20.5" text-anchor="start" fill="#262626" font-weight="normal" textLength="64.1" lengthAdjust="spacingAndGlyphs">Citrate</text>
<text x="1124.8" y="1979.7" font-size="20.5" text-anchor="start" fill="#262626" font-weight="normal" textLength="88.5" lengthAdjust="spacingAndGlyphs">Isocitrate</text>
<text x="1125.4" y="2027.0" font-size="20.5" text-anchor="start" fill="#262626" font-weight="normal" textLength="189.1" lengthAdjust="spacingAndGlyphs">2-Hydroxy glutarate</text>
<text x="1125.7" y="2075.1" font-size="20.5" text-anchor="start" fill="#262626" font-weight="normal" textLength="92.0" lengthAdjust="spacingAndGlyphs">Fumarate</text>
<text x="1124.8" y="2123.9" font-size="20.5" text-anchor="start" fill="#262626" font-weight="normal" textLength="188.3" lengthAdjust="spacingAndGlyphs">3-Phosphoglycerate</text>
<text x="1124.8" y="2169.1" font-size="20.5" text-anchor="start" fill="#262626" font-weight="normal" textLength="69.1" lengthAdjust="spacingAndGlyphs">Lactate</text>
<text x="782.7" y="1336.8" font-size="19.5" text-anchor="start" fill="#000" font-weight="normal" textLength="103.1" lengthAdjust="spacingAndGlyphs" stroke="#000" stroke-width="0.35">Fatty acids</text>
<text x="780.1" y="1364.2" font-size="19.5" text-anchor="start" fill="#000" font-weight="normal" textLength="109.1" lengthAdjust="spacingAndGlyphs" stroke="#000" stroke-width="0.35">β-oxidation</text>
<text x="788.9" y="1636.9" font-size="19.5" text-anchor="start" fill="#000" font-weight="normal" textLength="104.6" lengthAdjust="spacingAndGlyphs" stroke="#000" stroke-width="0.35">Proteolysis</text>
<text x="767.4" y="1865.4" font-size="19.5" text-anchor="start" fill="#000" font-weight="normal" textLength="136.1" lengthAdjust="spacingAndGlyphs" stroke="#000" stroke-width="0.35">Ketone bodies</text>
<text x="781.9" y="1892.9" font-size="19.5" text-anchor="start" fill="#000" font-weight="normal" textLength="105.7" lengthAdjust="spacingAndGlyphs" stroke="#000" stroke-width="0.35">production</text>
<text x="809.1" y="2020.5" font-size="19.5" text-anchor="start" fill="#000" font-weight="normal" textLength="92.9" lengthAdjust="spacingAndGlyphs" stroke="#000" stroke-width="0.35">TCA cycle</text>
<line x1="910.4" y1="1186.6" x2="910.4" y2="2187.6" stroke="#000" stroke-width="2"/>
<line x1="909.4" y1="1187.6" x2="918.5" y2="1187.6" stroke="#000" stroke-width="2"/>
<line x1="909.4" y1="1425" x2="918.3" y2="1425" stroke="#000" stroke-width="2"/>
<line x1="909.4" y1="1853.2" x2="924" y2="1853.2" stroke="#000" stroke-width="2"/>
<line x1="909.4" y1="1899.2" x2="924" y2="1899.2" stroke="#000" stroke-width="2"/>
<line x1="909.4" y1="2186.6" x2="923.7" y2="2186.6" stroke="#000" stroke-width="2"/>
<g transform="translate(946.7,2194.0) rotate(90)" fill="#000">
<text x="0" y="0" font-size="22.5" textLength="62" lengthAdjust="spacingAndGlyphs">Adck2</text>
<text x="63.2" y="-8" font-size="14" textLength="23" lengthAdjust="spacingAndGlyphs">+/+</text>
</g>
<g transform="translate(996.0,2194.0) rotate(90)" fill="#000">
<text x="0" y="0" font-size="22.5" textLength="62" lengthAdjust="spacingAndGlyphs">Adck2</text>
<text x="63.2" y="-8" font-size="14" textLength="20" lengthAdjust="spacingAndGlyphs">+/-</text>
</g>
<g transform="translate(1046.5,2194.0) rotate(90)" fill="#000">
<text x="0" y="0" font-size="22.5" textLength="62" lengthAdjust="spacingAndGlyphs">Adck2</text>
<text x="63.2" y="-8" font-size="14" textLength="23" lengthAdjust="spacingAndGlyphs">+/+</text>
<text x="89.2" y="0" font-size="22.5" textLength="12" lengthAdjust="spacingAndGlyphs">_</text>
<text x="102.8" y="0" font-size="22.5" textLength="23.2" lengthAdjust="spacingAndGlyphs">CR</text>
</g>
<g transform="translate(1097.0,2194.0) rotate(90)" fill="#000">
<text x="0" y="0" font-size="22.5" textLength="62" lengthAdjust="spacingAndGlyphs">Adck2</text>
<text x="63.2" y="-8" font-size="14" textLength="20" lengthAdjust="spacingAndGlyphs">+/-</text>
<text x="86.8" y="0" font-size="22.5" textLength="11.5" lengthAdjust="spacingAndGlyphs">_</text>
<text x="98.0" y="0" font-size="22.5" textLength="24.8" lengthAdjust="spacingAndGlyphs">CR</text>
</g>
<text x="1220.0" y="1178.0" font-size="22" text-anchor="start" fill="#3a3a3a" font-weight="normal" textLength="204.6" lengthAdjust="spacingAndGlyphs">(L group/WT group)-1</text>
<defs><linearGradient id="gD" x1="0" y1="1" x2="0" y2="0">
<stop offset="0.000" stop-color="#4575b4"/>
<stop offset="0.025" stop-color="#5080ba"/>
<stop offset="0.050" stop-color="#5c8bc0"/>
<stop offset="0.075" stop-color="#6796c6"/>
<stop offset="0.100" stop-color="#73a1cb"/>
<stop offset="0.125" stop-color="#7eadd1"/>
<stop offset="0.150" stop-color="#89b8d7"/>
<stop offset="0.175" stop-color="#95c1dc"/>
<stop offset="0.200" stop-color="#a1c8e0"/>
<stop offset="0.225" stop-color="#add0e3"/>
<stop offset="0.250" stop-color="#bad7e6"/>
<stop offset="0.275" stop-color="#c6deea"/>
<stop offset="0.300" stop-color="#d0e4ec"/>
<stop offset="0.325" stop-color="#d9e9ee"/>
<stop offset="0.350" stop-color="#dfece9"/>
<stop offset="0.375" stop-color="#e3ede2"/>
<stop offset="0.400" stop-color="#e7eedd"/>
<stop offset="0.425" stop-color="#ecf0d5"/>
<stop offset="0.450" stop-color="#f0f2cd"/>
<stop offset="0.475" stop-color="#f3f4c5"/>
<stop offset="0.500" stop-color="#f7f5bd"/>
<stop offset="0.525" stop-color="#f8f3b6"/>
<stop offset="0.550" stop-color="#f8f1af"/>
<stop offset="0.575" stop-color="#f9eda9"/>
<stop offset="0.600" stop-color="#f9eaa3"/>
<stop offset="0.625" stop-color="#f8e69d"/>
<stop offset="0.650" stop-color="#f7e197"/>
<stop offset="0.675" stop-color="#f5d991"/>
<stop offset="0.700" stop-color="#f1cd88"/>
<stop offset="0.725" stop-color="#edc482"/>
<stop offset="0.750" stop-color="#e9b97d"/>
<stop offset="0.775" stop-color="#e5ae77"/>
<stop offset="0.800" stop-color="#e0a372"/>
<stop offset="0.825" stop-color="#dc986c"/>
<stop offset="0.850" stop-color="#d98d66"/>
<stop offset="0.875" stop-color="#d6825f"/>
<stop offset="0.900" stop-color="#d27254"/>
<stop offset="0.925" stop-color="#cf624a"/>
<stop offset="0.950" stop-color="#cb523f"/>
<stop offset="0.975" stop-color="#c74335"/>
<stop offset="1.000" stop-color="#c4382c"/>
</linearGradient></defs>
<rect x="1305.9" y="1193.6" width="15.199999999999818" height="236.80000000000018" fill="url(#gD)"/>
<text x="1328.2" y="1218.9" font-size="15" text-anchor="start" fill="#1a2030" font-weight="normal" stroke="#1a2030" stroke-width="0.6">1.5</text>
<text x="1328.2" y="1254.1" font-size="15" text-anchor="start" fill="#1a2030" font-weight="normal" stroke="#1a2030" stroke-width="0.6">1</text>
<text x="1328.2" y="1287.2" font-size="15" text-anchor="start" fill="#1a2030" font-weight="normal" stroke="#1a2030" stroke-width="0.6">0.5</text>
<text x="1328.2" y="1320.2" font-size="15" text-anchor="start" fill="#1a2030" font-weight="normal" stroke="#1a2030" stroke-width="0.6">0</text>
<text x="1328.2" y="1354.3" font-size="15" text-anchor="start" fill="#1a2030" font-weight="normal" stroke="#1a2030" stroke-width="0.6">-0.5</text>
<text x="1328.2" y="1388.3" font-size="15" text-anchor="start" fill="#1a2030" font-weight="normal" stroke="#1a2030" stroke-width="0.6">-1</text>
<text x="1328.2" y="1422.3" font-size="15" text-anchor="start" fill="#1a2030" font-weight="normal" stroke="#1a2030" stroke-width="0.6">-1.5</text>
</g>
</g>
</svg>
</body></html>
